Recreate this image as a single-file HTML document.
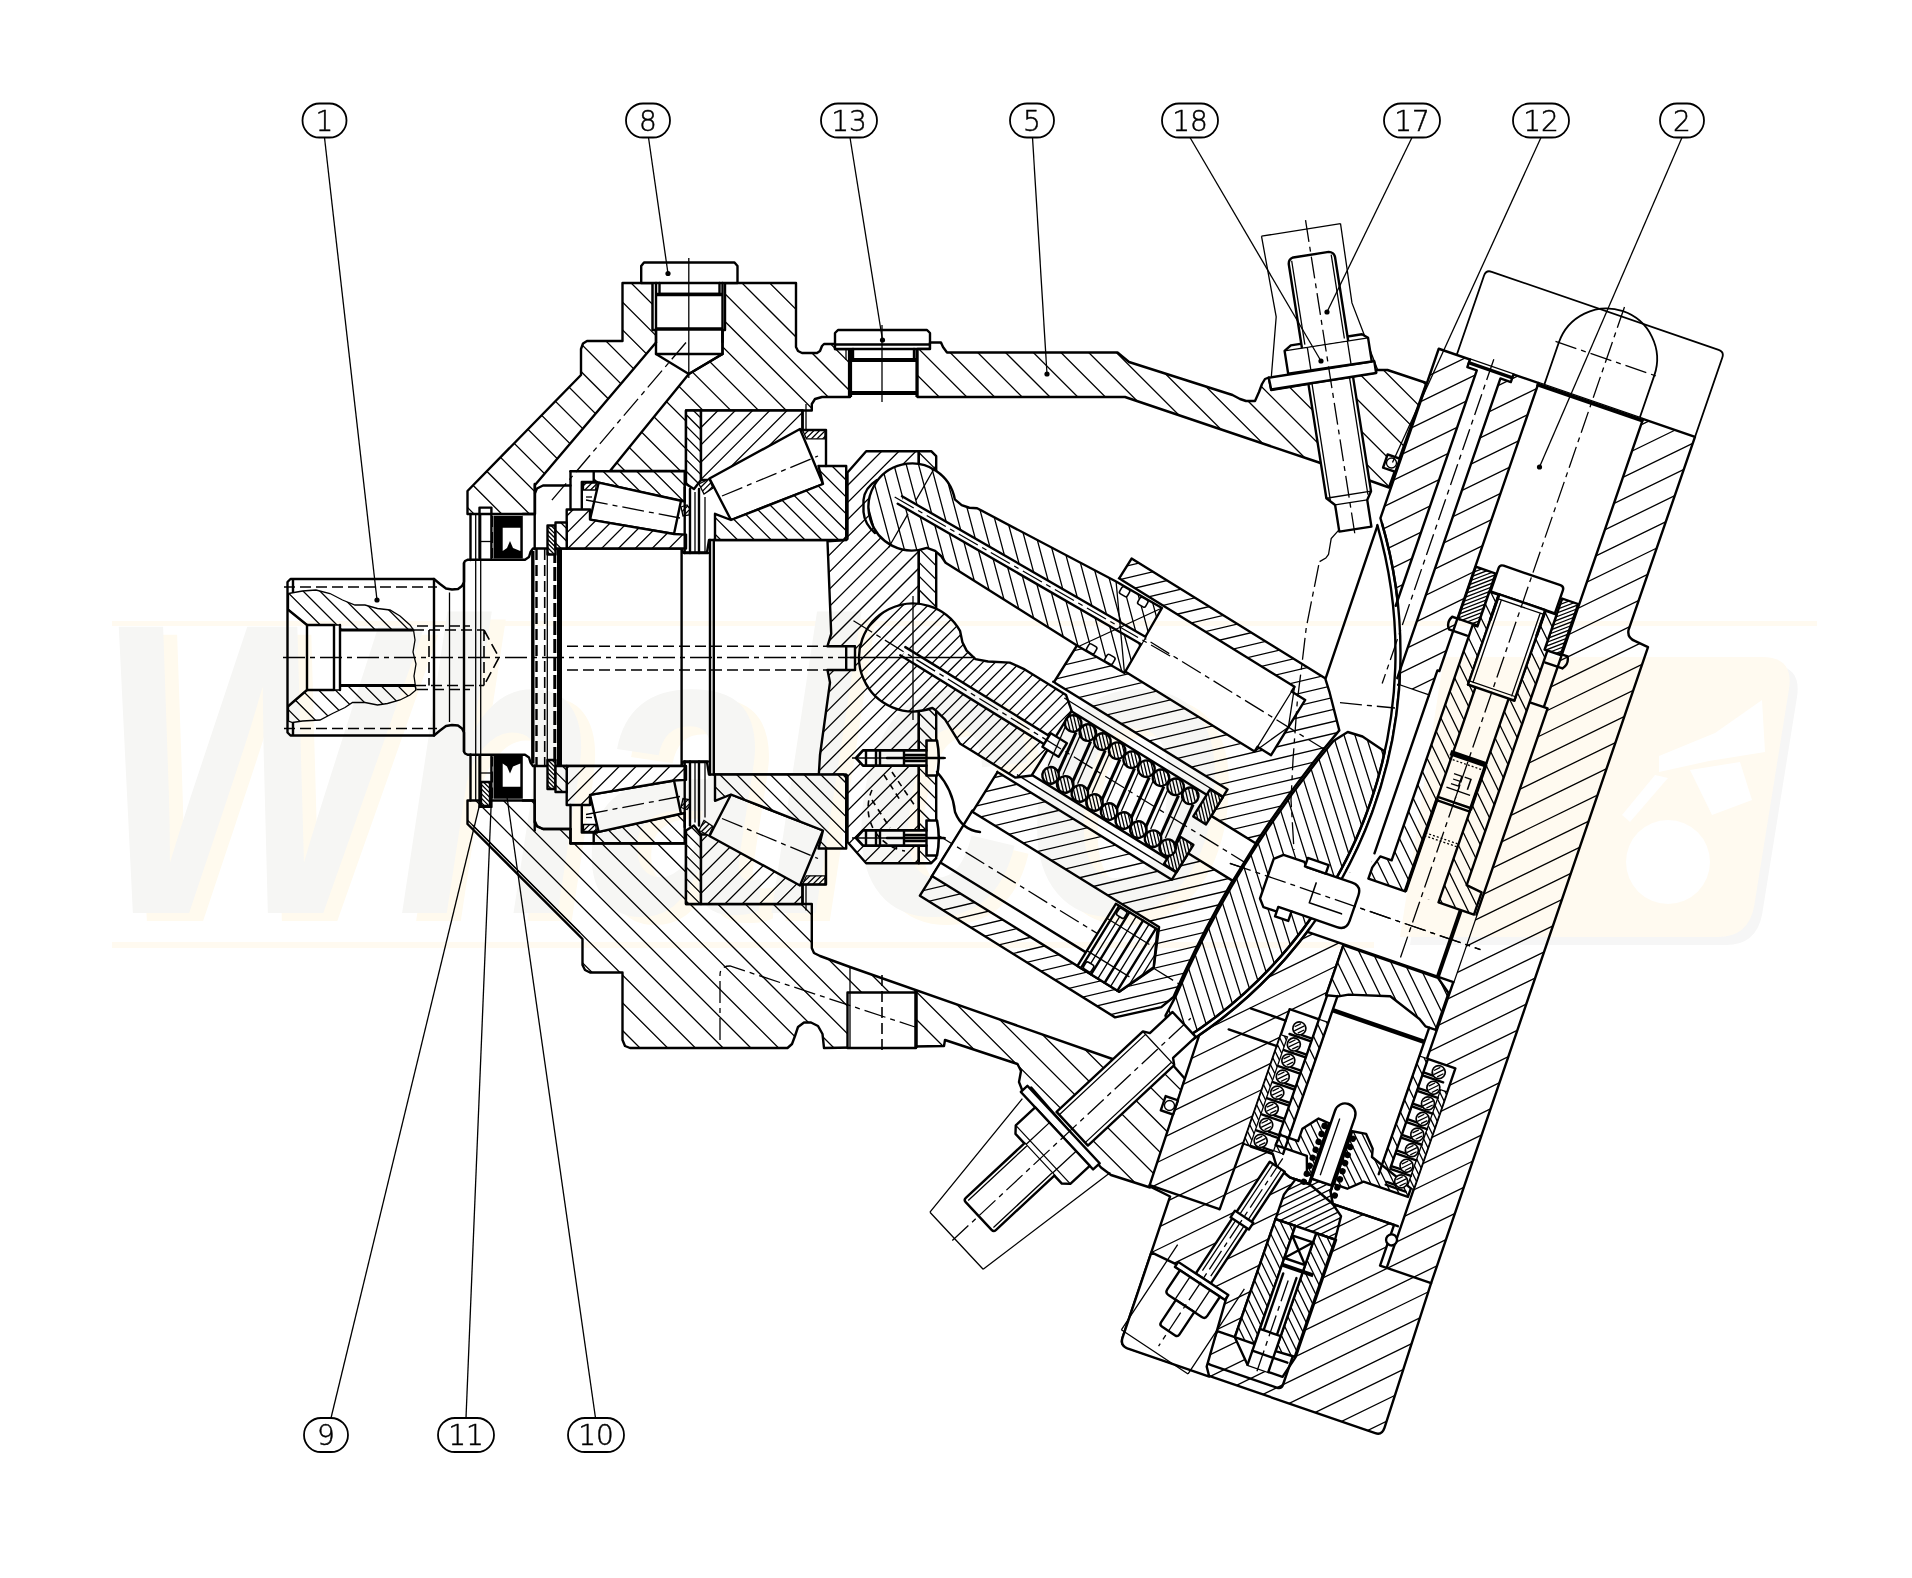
<!DOCTYPE html>
<html><head><meta charset="utf-8"><title>Pump section</title>
<style>
html,body{margin:0;padding:0;background:#fff}
svg{display:block}
.k{fill:none;stroke:#000;stroke-width:2.4;stroke-linejoin:round;stroke-linecap:round}
.k3{fill:none;stroke:#000;stroke-width:3.4;stroke-linecap:butt}
.t{fill:none;stroke:#000;stroke-width:1.3}
.m{fill:none;stroke:#000;stroke-width:1.5}
.d{fill:none;stroke:#000;stroke-width:1.6;stroke-dasharray:11 5}
.c{fill:none;stroke:#000;stroke-width:1.3;stroke-dasharray:22 5 5 5}
.b{fill:#000;stroke:none}
.w{fill:#fff;stroke:none}
text{font-family:"DejaVu Sans","Liberation Sans",sans-serif;font-weight:200;font-size:28px;text-anchor:middle;fill:#000;stroke:#000;stroke-width:0.5}
</style></head><body>
<svg width="1912" height="1578" viewBox="0 0 1912 1578">
<defs>
<clipPath id="c1"><path d="M467.5 491 L581 375 L581 349 L583 343.5 L587 341 L622.5 341 L622.5 283 L652.5 283 L652.5 330 L656 330 L656 342.5 L535 485 L535 514 L467.5 514 Z"/></clipPath>
<clipPath id="c2"><path d="M688.8 374 L722.5 354 L722.5 330 L725 330 L725 283 L796 283 L796 347 L798 351 L802 353 L817 353 L820 351 L822 346 L824 344 L835 344 L835 349 L850 349 L850 397 L822 397 L815 399 L811.8 404 L811.8 410.5 L686 410.5 L686 471 L610 471 Z"/></clipPath>
<clipPath id="c3"><path d="M467.5 800.5 L534.7 800.5 L534.7 822.5 L537 826.5 L543 829 L570.5 829 L570.5 843.5 L686 843.5 L686 904 L811.8 904 L811.8 948 L814 953 L820 956 L850 967 L1112.5 1059 L1122.5 1062.5 L1145 1033.8 L1175 1067.5 L1186 1080 L1184 1082 L1150 1187.5 L1111 1175 L1101 1167.5 L1031.2 1087.5 L1022.5 1091 L1019 1082 L1021 1071 L1017.5 1064 L945 1040 L944 1046 L824 1048 L822.5 1034 L818 1026 L811 1022.5 L804 1022.5 L798 1027 L795 1036 L792 1044 L787.5 1048 L630 1048 L625 1046 L622.5 1040 L622.5 972.5 L590 972.5 L585 970 L582.5 965 L582.5 939 L467.5 824 Z"/></clipPath>
<clipPath id="c4"><path d="M288.5 593.5 L302.5 591 L316 590 L330 593.5 L342.5 600 L355 605 L365 605 L377.5 608.5 L390 610 L400 616 L410 625 L413.5 630 L340 630 L340 625 L307 625 L288.5 610 Z"/></clipPath>
<clipPath id="c5"><path d="M307 690 L340 690 L340 685.5 L415 685.5 L416 690 L410 695 L400 700 L387.5 703.5 L377.5 705 L365 702.5 L352.5 702.5 L345 707.5 L332.5 713.5 L320 720 L302.5 721 L292.5 722.5 L288.5 721 L288.5 706 Z"/></clipPath>
<clipPath id="c6"><path d="M827.5 541.2 L846.2 540 L847.5 538.8 L847.5 472.5 L866.2 451.2 L918.8 451.2 L918.8 863.2 L866.2 863.2 L847.5 842 L847.5 775.8 L846.2 774.5 L818.8 775 L820 755 L830 682.5 L827.5 670 L855 670 L855 646.2 L827.5 646.2 L831.2 633.8 Z"/></clipPath>
<clipPath id="c7"><path d="M918.8 451.2 L931.2 451.2 L936.2 456.2 L936.2 858.2 L931.2 863.2 L918.8 863.2 Z"/></clipPath>
<clipPath id="c8"><path d="M593.7 471.3 L684.7 471.3 L684.7 501.5 L598.7 482.6 L593.7 482 Z"/></clipPath>
<clipPath id="c9"><path d="M566.7 509.5 L590 509.5 L590 519.6 L674 534 L686 534.6 L686 548.5 L566.7 548.5 Z"/></clipPath>
<clipPath id="c10"><path d="M583.5 483 L596.5 483 L595.5 490 L583.5 490 Z"/></clipPath>
<clipPath id="c11"><path d="M681 507 L687 505 L690 509 L689 515 L683 516 Z"/></clipPath>
<clipPath id="c12"><path d="M547.5 525.5 L555.5 525.5 L555.5 554.5 L547.5 554.5 Z"/></clipPath>
<clipPath id="c13"><path d="M555.5 522.5 L566.7 522.5 L566.7 548.5 L555.5 548.5 Z"/></clipPath>
<clipPath id="c14"><path d="M686 410.5 L701 410.5 L701 480 L694 489 L686 484 Z"/></clipPath>
<clipPath id="c15"><path d="M701 410.5 L802.5 410.5 L802.5 430 L708.8 480 L701 480 Z"/></clipPath>
<clipPath id="c16"><path d="M715 513.8 L731 520 L823 484 L818.5 466 L846.2 466 L846.2 537 L843.5 540 L715 540 Z"/></clipPath>
<clipPath id="c17"><path d="M802.5 430 L825 430 L825 438.8 L806.5 438.8 Z"/></clipPath>
<clipPath id="c18"><path d="M699 484 L709 479 L713 488 L704 494 Z"/></clipPath>
<clipPath id="c19"><path d="M593.7 843.2 L684.7 843.2 L684.7 813 L598.7 831.9 L593.7 832.5 Z"/></clipPath>
<clipPath id="c20"><path d="M566.7 805 L590 805 L590 794.9 L674 780.5 L686 779.9 L686 766 L566.7 766 Z"/></clipPath>
<clipPath id="c21"><path d="M583.5 831.5 L596.5 831.5 L595.5 824.5 L583.5 824.5 Z"/></clipPath>
<clipPath id="c22"><path d="M681 807.5 L687 809.5 L690 805.5 L689 799.5 L683 798.5 Z"/></clipPath>
<clipPath id="c23"><path d="M547.5 789 L555.5 789 L555.5 760 L547.5 760 Z"/></clipPath>
<clipPath id="c24"><path d="M555.5 792 L566.7 792 L566.7 766 L555.5 766 Z"/></clipPath>
<clipPath id="c25"><path d="M686 904 L701 904 L701 834.5 L694 825.5 L686 830.5 Z"/></clipPath>
<clipPath id="c26"><path d="M701 904 L802.5 904 L802.5 884.5 L708.8 834.5 L701 834.5 Z"/></clipPath>
<clipPath id="c27"><path d="M715 800.8 L731 794.5 L823 830.5 L818.5 848.5 L846.2 848.5 L846.2 777.5 L843.5 774.5 L715 774.5 Z"/></clipPath>
<clipPath id="c28"><path d="M802.5 884.5 L825 884.5 L825 875.8 L806.5 875.8 Z"/></clipPath>
<clipPath id="c29"><path d="M699 830.5 L709 835.5 L713 826.5 L704 820.5 Z"/></clipPath>
<clipPath id="c30"><path d="M481 782 L490 782 L490 806 L481 806 Z"/></clipPath>
<clipPath id="c31"><path d="M917.5 397 L917.5 349 L930 349 L930 342.5 L941 342.5 L943 347 L947 352.5 L1117.5 352.5 L1129 362 L1232.5 395 L1240 399 L1246 401 L1255 401 L1259 392 L1262 384 L1265 379 L1268.8 377.5 L1271.2 390 L1376.2 372.5 L1376 370 L1387.5 370 L1426.5 383 L1389 487.5 L1319 462.5 L1125 397 Z"/></clipPath>
<clipPath id="c32"><path d="M134 -199 L361.5 -199 L373 -189 L401 -162 A1082 1082 0 0 0 400 152 L395 167 L361 200 L131 199 Z"/></clipPath>
<clipPath id="c33"><path d="M26 -47.4 L34 -39 L42 -34 L54 -31.5 L66 -36 L85 -46.5 L100 -48.5 H150 L163 -38 V38 L150 48.5 H100 L85 48.5 L74 43 L60 36 L47 33 L43 32.7 A54 54 0 1 1 26 -47.4Z"/></clipPath>
<clipPath id="c34"><path d="M322 -44 L337 -44 L337 -12 L322 -12 Z"/></clipPath>
<clipPath id="c35"><path d="M322 12 L337 12 L337 44 L322 44 Z"/></clipPath>
<clipPath id="c36"><path d="M162.7 -28 a8.3 8.3 0 1 0 16.6 0 a8.3 8.3 0 1 0 -16.6 0Z"/></clipPath>
<clipPath id="c37"><path d="M170.7 28 a8.3 8.3 0 1 0 16.6 0 a8.3 8.3 0 1 0 -16.6 0Z"/></clipPath>
<clipPath id="c38"><path d="M179.9 -28 a8.3 8.3 0 1 0 16.6 0 a8.3 8.3 0 1 0 -16.6 0Z"/></clipPath>
<clipPath id="c39"><path d="M187.9 28 a8.3 8.3 0 1 0 16.6 0 a8.3 8.3 0 1 0 -16.6 0Z"/></clipPath>
<clipPath id="c40"><path d="M197.1 -28 a8.3 8.3 0 1 0 16.6 0 a8.3 8.3 0 1 0 -16.6 0Z"/></clipPath>
<clipPath id="c41"><path d="M205.1 28 a8.3 8.3 0 1 0 16.6 0 a8.3 8.3 0 1 0 -16.6 0Z"/></clipPath>
<clipPath id="c42"><path d="M214.3 -28 a8.3 8.3 0 1 0 16.6 0 a8.3 8.3 0 1 0 -16.6 0Z"/></clipPath>
<clipPath id="c43"><path d="M222.3 28 a8.3 8.3 0 1 0 16.6 0 a8.3 8.3 0 1 0 -16.6 0Z"/></clipPath>
<clipPath id="c44"><path d="M231.5 -28 a8.3 8.3 0 1 0 16.6 0 a8.3 8.3 0 1 0 -16.6 0Z"/></clipPath>
<clipPath id="c45"><path d="M239.5 28 a8.3 8.3 0 1 0 16.6 0 a8.3 8.3 0 1 0 -16.6 0Z"/></clipPath>
<clipPath id="c46"><path d="M248.7 -28 a8.3 8.3 0 1 0 16.6 0 a8.3 8.3 0 1 0 -16.6 0Z"/></clipPath>
<clipPath id="c47"><path d="M256.7 28 a8.3 8.3 0 1 0 16.6 0 a8.3 8.3 0 1 0 -16.6 0Z"/></clipPath>
<clipPath id="c48"><path d="M265.9 -28 a8.3 8.3 0 1 0 16.6 0 a8.3 8.3 0 1 0 -16.6 0Z"/></clipPath>
<clipPath id="c49"><path d="M273.9 28 a8.3 8.3 0 1 0 16.6 0 a8.3 8.3 0 1 0 -16.6 0Z"/></clipPath>
<clipPath id="c50"><path d="M283.1 -28 a8.3 8.3 0 1 0 16.6 0 a8.3 8.3 0 1 0 -16.6 0Z"/></clipPath>
<clipPath id="c51"><path d="M291.1 28 a8.3 8.3 0 1 0 16.6 0 a8.3 8.3 0 1 0 -16.6 0Z"/></clipPath>
<clipPath id="c52"><path d="M300.3 -28 a8.3 8.3 0 1 0 16.6 0 a8.3 8.3 0 1 0 -16.6 0Z"/></clipPath>
<clipPath id="c53"><path d="M308.3 28 a8.3 8.3 0 1 0 16.6 0 a8.3 8.3 0 1 0 -16.6 0Z"/></clipPath>
<clipPath id="c54"><path d="M33.3 -28 L42 -26.5 L50 -28 L57 -31.5 L214 -37.5 L267 -37.5 L267 37.5 L214 37.5 L57 31.5 L50 28 L42 26.5 L33.3 28 A43.5 43.5 0 1 1 33.3 -28Z"/></clipPath>
<clipPath id="c55"><path d="M0 0 H271 V204 Q272 212 281 212.5 L295 214 L297 886 L300 1038 Q300 1046 293 1046 H31 Q23 1046 23 1038 L22 889 L-1 886 L-3 727 A463.5 463.5 0 0 0 0 179.1 Z"/></clipPath>
<clipPath id="c56"><path d="M106 194 L127 194 L127 249 L106 249 Z"/></clipPath>
<clipPath id="c57"><path d="M198 196 L215 196 L215 250 L198 250 Z"/></clipPath>
<clipPath id="c58"><path d="M127 213 L137 213 L137 308 L145 308 L145 524 L106 524 L106 512 L110 499 L122 499 L122 250 L127 250 Z"/></clipPath>
<clipPath id="c59"><path d="M186 213 L198 213 L198 250 L201 250 L201 498 L217.5 500 L217.5 523.5 L180 523.5 L180 308 L186 308 Z"/></clipPath>
<clipPath id="c60"><path d="M1333.4 740.9 L1347.7 732 L1362.5 736.5 L1384.8 751.6 A458.5 458.5 0 0 1 1187.4 1037.1 L1168.9 1027.1 L1165.5 1015.6 L1175.8 996.1 A1082 1082 0 0 1 1333.4 740.9 Z"/></clipPath>
<clipPath id="c61"><path d="M135 832 L150 832 L150 826 L172 826 L172 832 L178 843 L190 852 L192 876 L129 876 L129 850 Z"/></clipPath>
<clipPath id="c62"><path d="M104 595 L204 595 L219 606 L219 645 L208 645 L200 640 L165 628 L125 640 L116 645 L104 648 Z"/></clipPath>
<clipPath id="c63"><path d="M74 700 L81 700 L81 815 L74 815 Z"/></clipPath>
<clipPath id="c64"><path d="M105 673 L115 673 L115 812 L105 812 Z"/></clipPath>
<clipPath id="c65"><path d="M212 675 L221 675 L221 800 L212 800 Z"/></clipPath>
<clipPath id="c66"><path d="M243 700 L250 700 L250 803 L243 803 Z"/></clipPath>
<clipPath id="c67"><path d="M125 782 L137 767 L148.5 768 L148.5 823 L144 823 L138 806 L105 806 L106 795 L125 795 Z"/></clipPath>
<clipPath id="c68"><path d="M173 768 L187 766 L198 778 L200 786 L247 803 L247 812 L200 812 L187 824 L173 824 Z"/></clipPath>
<clipPath id="c69"><path d="M129 876 L150 876 L150 1001 L129 1001 Z"/></clipPath>
<clipPath id="c70"><path d="M172 876 L192 876 L192 1000 L172 1001 Z"/></clipPath>
</defs>
<path d="M467.5 491 L581 375 L581 349 L583 343.5 L587 341 L622.5 341 L622.5 283 L652.5 283 L652.5 330 L656 330 L656 342.5 L535 485 L535 514 L467.5 514 Z" fill="#fff"/>
<g clip-path="url(#c1)"><path class="t" d="M547.8 199.7L760.6 412.5M533.9 213.5L746.7 426.3M520 227.4L732.9 440.2M506.2 241.2L719 454.1M492.3 255.1L705.1 467.9M478.5 269L691.3 481.8M464.6 282.8L677.4 495.6M450.8 296.7L663.6 509.5M436.9 310.5L649.7 523.4M423 324.4L635.8 537.2M409.2 338.3L622 551.1M395.3 352.1L608.1 564.9M381.5 366L594.3 578.8M367.6 379.8L580.4 592.7M353.7 393.7L566.5 606.5"/></g>
<path class="k" d="M467.5 491 L581 375 L581 349 L583 343.5 L587 341 L622.5 341 L622.5 283 L652.5 283 L652.5 330 L656 330 L656 342.5 L535 485 L535 514 L467.5 514 Z"/>
<path d="M688.8 374 L722.5 354 L722.5 330 L725 330 L725 283 L796 283 L796 347 L798 351 L802 353 L817 353 L820 351 L822 346 L824 344 L835 344 L835 349 L850 349 L850 397 L822 397 L815 399 L811.8 404 L811.8 410.5 L686 410.5 L686 471 L610 471 Z" fill="#fff"/>
<g clip-path="url(#c2)"><path class="t" d="M715.8 173.7L933.3 391.2M701.9 187.5L919.5 405.1M688.1 201.4L905.6 418.9M674.2 215.2L891.8 432.8M660.3 229.1L877.9 446.7M646.5 243L864 460.5M632.6 256.8L850.2 474.4M618.8 270.7L836.3 488.2M604.9 284.5L822.5 502.1M591 298.4L808.6 516M577.2 312.3L794.7 529.8M563.3 326.1L780.9 543.7M549.5 340L767 557.5M535.6 353.8L753.2 571.4M521.8 367.7L739.3 585.2"/></g>
<path class="k" d="M688.8 374 L722.5 354 L722.5 330 L725 330 L725 283 L796 283 L796 347 L798 351 L802 353 L817 353 L820 351 L822 346 L824 344 L835 344 L835 349 L850 349 L850 397 L822 397 L815 399 L811.8 404 L811.8 410.5 L686 410.5 L686 471 L610 471 Z"/>
<path class="c" d="M686 342.5 L548.8 503.8"/>
<path class="k" d="M641.2 283 L641.2 266 L644 262.5 L734.5 262.5 L737.5 266 L737.5 283 Z" style="fill:#fff"/>
<path class="t" d="M652.5 283 L652.5 330" />
<path class="t" d="M725 283 L725 330" />
<path class="k" d="M656 342.5 L656 354 L688.8 374 L722.5 354 L722.5 330" />
<path class="k" d="M656 354 L722.5 354" />
<path class="k" d="M659.5 283 L659.5 294 L719.5 294 L719.5 283" />
<path class="k3" d="M656 294.5H722.5M656 329H722.5"/>
<path class="k" d="M656 283 L656 342.5" />
<path class="k" d="M722.5 283 L722.5 342" />
<path class="t" d="M688.8 258 L688.8 378"/>
<path class="k" d="M835 349 L835 333 L838 330 L927 330 L930 333 L930 349 Z" style="fill:#fff"/>
<path class="t" d="M846 349 L846 360" />
<path class="t" d="M921 349 L921 360" />
<path class="k" d="M835 344.5 L930 344.5"/>
<path class="k3" style="stroke-width:4.2" d="M850 349V397M917.5 349V397M850 360H917.5M850 393H917.5"/>
<path class="k" d="M853 349 L853 358" />
<path class="k" d="M914 349 L914 358" />
<path class="t" d="M882 325 L882 402"/>
<path d="M467.5 800.5 L534.7 800.5 L534.7 822.5 L537 826.5 L543 829 L570.5 829 L570.5 843.5 L686 843.5 L686 904 L811.8 904 L811.8 948 L814 953 L820 956 L850 967 L1112.5 1059 L1122.5 1062.5 L1145 1033.8 L1175 1067.5 L1186 1080 L1184 1082 L1150 1187.5 L1111 1175 L1101 1167.5 L1031.2 1087.5 L1022.5 1091 L1019 1082 L1021 1071 L1017.5 1064 L945 1040 L944 1046 L824 1048 L822.5 1034 L818 1026 L811 1022.5 L804 1022.5 L798 1027 L795 1036 L792 1044 L787.5 1048 L630 1048 L625 1046 L622.5 1040 L622.5 972.5 L590 972.5 L585 970 L582.5 965 L582.5 939 L467.5 824 Z" fill="#fff"/>
<g clip-path="url(#c3)"><path class="t" d="M804.9 436.8L1383.9 1015.8M791.1 450.7L1370.1 1029.7M777.2 464.5L1356.2 1043.5M763.4 478.4L1342.3 1057.4M749.5 492.3L1328.5 1071.2M735.6 506.1L1314.6 1085.1M721.8 520L1300.8 1099M707.9 533.8L1286.9 1112.8M694.1 547.7L1273.1 1126.7M680.2 561.6L1259.2 1140.5M666.4 575.4L1245.3 1154.4M652.5 589.3L1231.5 1168.3M638.6 603.1L1217.6 1182.1M624.8 617L1203.8 1196M610.9 630.9L1189.9 1209.8M597.1 644.7L1176 1223.7M583.2 658.6L1162.2 1237.6M569.3 672.4L1148.3 1251.4M555.5 686.3L1134.5 1265.3M541.6 700.2L1120.6 1279.1M527.8 714L1106.7 1293M513.9 727.9L1092.9 1306.9M500 741.7L1079 1320.7M486.2 755.6L1065.2 1334.6M472.3 769.4L1051.3 1348.4M458.5 783.3L1037.4 1362.3M444.6 797.2L1023.6 1376.1M430.7 811L1009.7 1390M416.9 824.9L995.9 1403.9M403 838.7L982 1417.7M389.2 852.6L968.1 1431.6M375.3 866.5L954.3 1445.4M361.4 880.3L940.4 1459.3M347.6 894.2L926.6 1473.2M333.7 908L912.7 1487M319.9 921.9L898.9 1500.9M306 935.8L885 1514.7M292.1 949.6L871.1 1528.6M278.3 963.5L857.3 1542.5M264.4 977.3L843.4 1556.3"/></g>
<path class="k" d="M467.5 800.5 L534.7 800.5 L534.7 822.5 L537 826.5 L543 829 L570.5 829 L570.5 843.5 L686 843.5 L686 904 L811.8 904 L811.8 948 L814 953 L820 956 L850 967 L1112.5 1059 L1122.5 1062.5 L1145 1033.8 L1175 1067.5 L1186 1080 L1184 1082 L1150 1187.5 L1111 1175 L1101 1167.5 L1031.2 1087.5 L1022.5 1091 L1019 1082 L1021 1071 L1017.5 1064 L945 1040 L944 1046 L824 1048 L822.5 1034 L818 1026 L811 1022.5 L804 1022.5 L798 1027 L795 1036 L792 1044 L787.5 1048 L630 1048 L625 1046 L622.5 1040 L622.5 972.5 L590 972.5 L585 970 L582.5 965 L582.5 939 L467.5 824 Z"/>
<path class="t" d="M472.5 825 L580 932.5" />
<path class="k" d="M847.5 992.5 L916 992.5 L916 1048 L847.5 1048 Z" style="fill:#fff"/>
<path class="k3" d="M916 990 L916 1048"/>
<path class="t" d="M850 967.5 L850 1048" />
<path class="d" d="M882 975 L882 1052"/>
<path class="c" d="M720 1040V975Q720 966 730 966L915 1027"/>
<path class="k" d="M287.5 582 L290.5 579 L434 579 L440 584 L446 588.5 L452 589.5 L458 589 L462 586 L464 582 L464 563 L465 561 L468 559.7 L525 559.7 L529 557 L530.5 552 L533 548.5 L681.6 548.5 L683 552.5 L707 552.5 L709 540 L846.2 540 L846.2 774.5 L846.2 774.5 L709 774.5 L707 762 L683 762 L681.6 766 L533 766 L530.5 762.5 L529 757.5 L525 754.8 L468 754.8 L465 753.5 L464 751.5 L464 732.5 L462 728.5 L458 725.5 L452 725 L446 726 L440 730.5 L434 735.5 L290.5 735.5 L287.5 732.5 Z" style="fill:#fff"/>
<path class="k" d="M293 580 L293 593"/>
<path class="k" d="M293 721.5 L293 734.5"/>
<path class="k" d="M434 579 L434 735.5"/>
<path class="t" d="M449.5 592.5 L449.5 722"/>
<path class="k" d="M464 563 L464 751.5"/>
<path class="t" d="M475.7 514 L475.7 800.5"/>
<path class="t" d="M480.7 514 L480.7 800.5"/>
<path class="k3" d="M532.8 551 L532.8 763.5"/>
<path class="d" style="stroke-width:2.4" d="M536.5 549V765.5"/>
<path class="d" d="M544.7 549 L544.7 765.5"/>
<path class="t" d="M547.3 549 L547.3 765.5"/>
<path class="d" style="stroke-width:3;stroke-dasharray:14 4" d="M554.8 549V765.5"/>
<path class="k3" style="stroke-width:5" d="M559.5 549V765.5"/>
<path class="k" d="M681.6 548.5 L681.6 766"/>
<path class="k" d="M710 540 L710 774.5"/>
<path class="k" d="M713.8 540 L713.8 774.5"/>
<path class="d" d="M284 587H437M284 728.5H437"/>
<path class="c" d="M283 657.5 L940 657.5"/>
<path d="M288.5 593.5 L302.5 591 L316 590 L330 593.5 L342.5 600 L355 605 L365 605 L377.5 608.5 L390 610 L400 616 L410 625 L413.5 630 L340 630 L340 625 L307 625 L288.5 610 Z" fill="#fff"/>
<g clip-path="url(#c4)"><path class="t" d="M339.3 527.1L433.9 621.7M331 535.5L425.5 630M322.6 543.8L417.2 638.4M314.3 552.1L408.9 646.7M305.9 560.5L400.5 655.1M297.6 568.8L392.2 663.4M289.2 577.2L383.8 671.8M280.9 585.5L375.5 680.1M272.6 593.9L367.1 688.4M264.2 602.2L358.8 696.8"/></g>
<path class="t" d="M288.5 593.5 L302.5 591 L316 590 L330 593.5 L342.5 600 L355 605 L365 605 L377.5 608.5 L390 610 L400 616 L410 625 L413.5 630 L340 630 L340 625 L307 625 L288.5 610 Z"/>
<path d="M307 690 L340 690 L340 685.5 L415 685.5 L416 690 L410 695 L400 700 L387.5 703.5 L377.5 705 L365 702.5 L352.5 702.5 L345 707.5 L332.5 713.5 L320 720 L302.5 721 L292.5 722.5 L288.5 721 L288.5 706 Z" fill="#fff"/>
<g clip-path="url(#c5)"><path class="t" d="M344.7 615.9L440.3 711.6M336.3 624.3L432 719.9M328 632.6L423.6 728.3M319.7 641L415.3 736.6M311.3 649.3L406.9 744.9M303 657.7L398.6 753.3M294.6 666L390.3 761.6M286.3 674.3L381.9 770M277.9 682.7L373.6 778.3M269.6 691L365.2 786.7"/></g>
<path class="t" d="M307 690 L340 690 L340 685.5 L415 685.5 L416 690 L410 695 L400 700 L387.5 703.5 L377.5 705 L365 702.5 L352.5 702.5 L345 707.5 L332.5 713.5 L320 720 L302.5 721 L292.5 722.5 L288.5 721 L288.5 706 Z"/>
<path class="k" d="M288.5 610 L307 625 L307 690 L288.5 706" />
<path class="k" d="M307 625 L334 625 L334 690 L307 690" />
<path class="k" d="M340 625 L340 690" />
<path class="k3" style="stroke-width:2.8" d="M340 630H413.5M340 685.5H415"/>
<path class="t" d="M413.5 630 L415 640 L413 652 L416 664 L414 676 L416 690" />
<path class="d" d="M417 626H470M417 689.5H470M413 630H484M415 685.5H484M429 630V685.5M484 630V685.5M484 630L499 657.5L484 685.5"/>
<path class="d" d="M567 646.25H827.5M567 670H827.5"/>
<path d="M827.5 541.2 L846.2 540 L847.5 538.8 L847.5 472.5 L866.2 451.2 L918.8 451.2 L918.8 863.2 L866.2 863.2 L847.5 842 L847.5 775.8 L846.2 774.5 L818.8 775 L820 755 L830 682.5 L827.5 670 L855 670 L855 646.2 L827.5 646.2 L831.2 633.8 Z" fill="#fff"/>
<g clip-path="url(#c6)"><path class="t" d="M595.9 685.8L897.3 384.4M604.4 694.4L905.9 392.9M613 703L914.5 401.5M621.5 711.5L923 410M630.1 720.1L931.6 418.6M638.6 728.6L940.1 427.1M647.2 737.2L948.7 435.7M655.7 745.7L957.2 444.2M664.3 754.3L965.8 452.8M672.9 762.9L974.4 461.4M681.4 771.4L982.9 469.9M690 780L991.5 478.5M698.5 788.5L1000 487M707.1 797.1L1008.6 495.6M715.6 805.6L1017.1 504.1M724.2 814.2L1025.7 512.7M732.7 822.7L1034.2 521.2M741.3 831.3L1042.8 529.8M749.9 839.9L1051.4 538.4M758.4 848.4L1059.9 546.9M767 857L1068.5 555.5M775.5 865.5L1077 564M784.1 874.1L1085.6 572.6M792.6 882.6L1094.1 581.1M801.2 891.2L1102.7 589.7M809.8 899.7L1111.2 598.3M818.3 908.3L1119.8 606.8M826.9 916.9L1128.4 615.4M835.4 925.4L1136.9 623.9M844 934L1145.5 632.5"/></g>
<path class="k" d="M827.5 541.2 L846.2 540 L847.5 538.8 L847.5 472.5 L866.2 451.2 L918.8 451.2 L918.8 863.2 L866.2 863.2 L847.5 842 L847.5 775.8 L846.2 774.5 L818.8 775 L820 755 L830 682.5 L827.5 670 L855 670 L855 646.2 L827.5 646.2 L831.2 633.8 Z"/>
<path d="M918.8 451.2 L931.2 451.2 L936.2 456.2 L936.2 858.2 L931.2 863.2 L918.8 863.2 Z" fill="#fff"/>
<g clip-path="url(#c7)"><path class="t" d="M885.9 405.8L1179 698.8M879 412.6L1172.1 705.7M872.2 419.5L1165.3 712.6M865.3 426.4L1158.4 719.4M858.5 433.2L1151.5 726.3M851.6 440.1L1144.7 733.1M844.8 446.9L1137.8 740M837.9 453.8L1131 746.9M831 460.7L1124.1 753.7M824.2 467.5L1117.2 760.6M817.3 474.4L1110.4 767.4M810.5 481.2L1103.5 774.3M803.6 488.1L1096.7 781.2M796.7 494.9L1089.8 788M789.9 501.8L1082.9 794.9M783 508.7L1076.1 801.7M776.2 515.5L1069.2 808.6M769.3 522.4L1062.4 815.4M762.4 529.2L1055.5 822.3M755.6 536.1L1048.7 829.2M748.7 543L1041.8 836M741.9 549.8L1034.9 842.9M735 556.7L1028.1 849.7M728.1 563.5L1021.2 856.6M721.3 570.4L1014.4 863.5M714.4 577.3L1007.5 870.3M707.6 584.1L1000.6 877.2M700.7 591L993.8 884M693.9 597.8L986.9 890.9M687 604.7L980.1 897.8M680.1 611.5L973.2 904.6M673.3 618.4L966.3 911.5"/></g>
<path class="k" d="M918.8 451.2 L931.2 451.2 L936.2 456.2 L936.2 858.2 L931.2 863.2 L918.8 863.2 Z"/>
<path d="M593.7 471.3 L684.7 471.3 L684.7 501.5 L598.7 482.6 L593.7 482 Z" fill="#fff"/>
<g clip-path="url(#c8)"><path class="t" d="M627.6 428.4L697.2 498M619.2 436.9L688.7 506.4M610.7 445.3L680.3 514.9M602.3 453.7L671.9 523.3M593.9 462.1L663.5 531.7M585.5 470.5L655.1 540.1M577.1 478.9L646.7 548.5"/></g>
<path class="k" d="M593.7 471.3 L684.7 471.3 L684.7 501.5 L598.7 482.6 L593.7 482 Z"/>
<path class="k" d="M598.7 482.6 L681 500.8 L674 534 L590 519.6 Z" style="fill:#fff"/>
<path class="c" d="M586 500 L680 518" />
<path d="M566.7 509.5 L590 509.5 L590 519.6 L674 534 L686 534.6 L686 548.5 L566.7 548.5 Z" fill="#fff"/>
<g clip-path="url(#c9)"><path class="t" d="M544.8 538L635.3 447.4M553.2 546.4L643.7 455.8M561.6 554.8L652.1 464.2M570 563.2L660.5 472.7M578.4 571.6L669 481.1M586.8 580L677.4 489.5M595.3 588.4L685.8 497.9M603.7 596.9L694.2 506.3M612.1 605.3L702.6 514.7M620.5 613.7L711 523.1"/></g>
<path class="k" d="M566.7 509.5 L590 509.5 L590 519.6 L674 534 L686 534.6 L686 548.5 L566.7 548.5 Z"/>
<path class="k" d="M570.5 471.3 L570.5 509.5" />
<path class="k" d="M570.5 471.3 L593.7 471.3" />
<path class="k" d="M581.8 508 L581.8 482 L597 482" />
<path d="M583.5 483 L596.5 483 L595.5 490 L583.5 490 Z" fill="#fff"/>
<g clip-path="url(#c10)"><path class="t" d="M580.1 489L592.5 476.6M583 491.8L595.3 479.5M585.8 494.7L598.2 482.3M588.6 497.5L601 485.1"/></g>
<path class="t" d="M583.5 483 L596.5 483 L595.5 490 L583.5 490 Z"/>
<path d="M681 507 L687 505 L690 509 L689 515 L683 516 Z" fill="#fff"/>
<g clip-path="url(#c11)"><path class="t" d="M675.4 512.5L687.5 500.4M678.3 515.3L690.3 503.3M681.1 518.1L693.1 506.1M683.9 521L696 508.9"/></g>
<path class="t" d="M681 507 L687 505 L690 509 L689 515 L683 516 Z"/>
<path class="t" d="M586 497 L592 497" />
<path d="M547.5 525.5 L555.5 525.5 L555.5 554.5 L547.5 554.5 Z" fill="#fff"/>
<g clip-path="url(#c12)"><path class="t" d="M549.1 519.4L572.1 542.4M547 521.5L570 544.5M544.8 523.6L567.9 546.7M542.7 525.7L565.8 548.8M540.6 527.9L563.6 550.9M538.5 530L561.5 553M536.4 532.1L559.4 555.1M534.2 534.2L557.3 557.3M532.1 536.4L555.1 559.4M530 538.5L553 561.5"/></g>
<path class="k" d="M547.5 525.5 L555.5 525.5 L555.5 554.5 L547.5 554.5 Z"/>
<path d="M555.5 522.5 L566.7 522.5 L566.7 548.5 L555.5 548.5 Z" fill="#fff"/>
<g clip-path="url(#c13)"><path class="t" d="M556.4 518.3L578.3 540.2M550.1 524.6L572 546.5M543.7 531L565.6 552.9"/></g>
<path class="k" d="M555.5 522.5 L566.7 522.5 L566.7 548.5 L555.5 548.5 Z"/>
<path class="k" d="M684.7 487.5 L684.7 553" />
<path class="k" d="M690 489 L690 553" />
<path class="t" d="M695 492 L695 553" />
<path class="k" d="M699 489 L699 553" />
<path class="t" d="M705 497 L705 553" />
<path class="k" d="M684 553 L708 553" />
<path d="M686 410.5 L701 410.5 L701 480 L694 489 L686 484 Z" fill="#fff"/>
<g clip-path="url(#c14)"><path class="t" d="M684 401.1L742.1 459.3M678.3 406.8L736.5 464.9M672.6 412.4L730.8 470.6M667 418.1L725.2 476.3M661.3 423.7L719.5 481.9M655.7 429.4L713.9 487.6M650 435.1L708.2 493.2M644.4 440.7L702.5 498.9"/></g>
<path class="k" d="M686 410.5 L701 410.5 L701 480 L694 489 L686 484 Z"/>
<path d="M701 410.5 L802.5 410.5 L802.5 430 L708.8 480 L701 480 Z" fill="#fff"/>
<g clip-path="url(#c15)"><path class="t" d="M664.4 446.9L753.4 357.9M673 455.5L762 366.5M681.7 464.1L770.6 375.2M690.3 472.8L779.3 383.8M698.9 481.4L787.9 392.4M707.6 490L796.5 401.1M716.2 498.6L805.1 409.7M724.8 507.3L813.8 418.3M733.4 515.9L822.4 426.9M742.1 524.5L831 435.6M750.7 533.1L839.6 444.2"/></g>
<path class="k" d="M701 410.5 L802.5 410.5 L802.5 430 L708.8 480 L701 480 Z"/>
<path class="k" d="M709.5 478.5 L800 429 L823 484 L731 520 Z" style="fill:#fff"/>
<path class="c" d="M722 496 L818 456" />
<path d="M715 513.8 L731 520 L823 484 L818.5 466 L846.2 466 L846.2 537 L843.5 540 L715 540 Z" fill="#fff"/>
<g clip-path="url(#c16)"><path class="t" d="M770.6 404.6L879 513M762.2 413L870.6 521.5M753.7 421.4L862.2 529.9M745.3 429.8L853.8 538.3M736.9 438.2L845.4 546.7M728.5 446.7L837 555.1M720.1 455.1L828.6 563.5M711.7 463.5L820.1 572M703.3 471.9L811.7 580.4M694.8 480.3L803.3 588.8M686.4 488.7L794.9 597.2M678 497.1L786.5 605.6"/></g>
<path class="k" d="M715 513.8 L731 520 L823 484 L818.5 466 L846.2 466 L846.2 537 L843.5 540 L715 540 Z"/>
<path d="M802.5 430 L825 430 L825 438.8 L806.5 438.8 Z" fill="#fff"/>
<g clip-path="url(#c17)"><path class="t" d="M796.8 436.4L815.7 417.5M799.7 439.2L818.6 420.3M802.5 442L821.4 423.1M805.3 444.9L824.2 425.9M808.1 447.7L827.1 428.8M811 450.5L829.9 431.6"/></g>
<path class="t" d="M802.5 430 L825 430 L825 438.8 L806.5 438.8 Z"/>
<path class="k" d="M802.5 430 L826 430 L826 466" />
<path d="M699 484 L709 479 L713 488 L704 494 Z" fill="#fff"/>
<g clip-path="url(#c18)"><path class="t" d="M689.8 486.8L706.3 470.3M692.6 489.6L709.1 473.1M695.5 492.5L712 476M698.3 495.3L714.8 478.8M701.1 498.1L717.6 481.6M704 501L720.5 484.5"/></g>
<path class="t" d="M699 484 L709 479 L713 488 L704 494 Z"/>
<path class="k" d="M802.5 410.5 L802.5 430" />
<path class="t" d="M806 404 L806 430" />
<path d="M593.7 843.2 L684.7 843.2 L684.7 813 L598.7 831.9 L593.7 832.5 Z" fill="#fff"/>
<g clip-path="url(#c19)"><path class="t" d="M630.1 767.6L699.7 837.2M621.7 776L691.3 845.6M613.3 784.4L682.9 854M604.9 792.8L674.5 862.4M596.5 801.2L666.1 870.8M588.1 809.7L657.6 879.2M579.6 818.1L649.2 887.7"/></g>
<path class="k" d="M593.7 843.2 L684.7 843.2 L684.7 813 L598.7 831.9 L593.7 832.5 Z"/>
<path class="k" d="M598.7 831.9 L681 813.7 L674 780.5 L590 794.9 Z" style="fill:#fff"/>
<path class="c" d="M586 814.5 L680 796.5" />
<path d="M566.7 805 L590 805 L590 794.9 L674 780.5 L686 779.9 L686 766 L566.7 766 Z" fill="#fff"/>
<g clip-path="url(#c20)"><path class="t" d="M542.7 792.4L633.3 701.9M551.1 800.8L641.7 710.3M559.6 809.3L650.1 718.7M568 817.7L658.5 727.1M576.4 826.1L666.9 735.5M584.8 834.5L675.3 744M593.2 842.9L683.8 752.4M601.6 851.3L692.2 760.8M610.1 859.7L700.6 769.2M618.5 868.2L709 777.6"/></g>
<path class="k" d="M566.7 805 L590 805 L590 794.9 L674 780.5 L686 779.9 L686 766 L566.7 766 Z"/>
<path class="k" d="M570.5 843.2 L570.5 805" />
<path class="k" d="M570.5 843.2 L593.7 843.2" />
<path class="k" d="M581.8 806.5 L581.8 832.5 L597 832.5" />
<path d="M583.5 831.5 L596.5 831.5 L595.5 824.5 L583.5 824.5 Z" fill="#fff"/>
<g clip-path="url(#c21)"><path class="t" d="M579.1 829.5L591.5 817.1M581.9 832.3L594.3 819.9M584.8 835.1L597.1 822.8M587.6 837.9L599.9 825.6"/></g>
<path class="t" d="M583.5 831.5 L596.5 831.5 L595.5 824.5 L583.5 824.5 Z"/>
<path d="M681 807.5 L687 809.5 L690 805.5 L689 799.5 L683 798.5 Z" fill="#fff"/>
<g clip-path="url(#c22)"><path class="t" d="M675.8 806.3L687.8 794.3M678.6 809.1L690.6 797.1M681.4 812L693.5 799.9M684.3 814.8L696.3 802.8"/></g>
<path class="t" d="M681 807.5 L687 809.5 L690 805.5 L689 799.5 L683 798.5 Z"/>
<path class="t" d="M586 817.5 L592 817.5" />
<path d="M547.5 789 L555.5 789 L555.5 760 L547.5 760 Z" fill="#fff"/>
<g clip-path="url(#c23)"><path class="t" d="M549.7 753.3L572.7 776.3M547.5 755.4L570.6 778.5M545.4 757.5L568.5 780.6M543.3 759.7L566.3 782.7M541.2 761.8L564.2 784.8M539.1 763.9L562.1 786.9M536.9 766L560 789.1M534.8 768.2L557.8 791.2M532.7 770.3L555.7 793.3M530.6 772.4L553.6 795.4"/></g>
<path class="k" d="M547.5 789 L555.5 789 L555.5 760 L547.5 760 Z"/>
<path d="M555.5 792 L566.7 792 L566.7 766 L555.5 766 Z" fill="#fff"/>
<g clip-path="url(#c24)"><path class="t" d="M557.3 760.9L579.2 782.8M550.9 767.3L572.8 789.2M544.6 773.7L566.4 795.5"/></g>
<path class="k" d="M555.5 792 L566.7 792 L566.7 766 L555.5 766 Z"/>
<path class="k" d="M684.7 827 L684.7 761.5" />
<path class="k" d="M690 825.5 L690 761.5" />
<path class="t" d="M695 822.5 L695 761.5" />
<path class="k" d="M699 825.5 L699 761.5" />
<path class="t" d="M705 817.5 L705 761.5" />
<path class="k" d="M684 761.5 L708 761.5" />
<path d="M686 904 L701 904 L701 834.5 L694 825.5 L686 830.5 Z" fill="#fff"/>
<g clip-path="url(#c25)"><path class="t" d="M687.8 812.3L746 870.4M682.2 817.9L740.3 876.1M676.5 823.6L734.7 881.8M670.8 829.2L729 887.4M665.2 834.9L723.4 893.1M659.5 840.5L717.7 898.7M653.9 846.2L712 904.4M648.2 851.9L706.4 910M642.6 857.5L700.7 915.7"/></g>
<path class="k" d="M686 904 L701 904 L701 834.5 L694 825.5 L686 830.5 Z"/>
<path d="M701 904 L802.5 904 L802.5 884.5 L708.8 834.5 L701 834.5 Z" fill="#fff"/>
<g clip-path="url(#c26)"><path class="t" d="M668.1 874.5L757 785.6M676.7 883.2L765.7 794.2M685.3 891.8L774.3 802.8M694 900.4L782.9 811.5M702.6 909L791.5 820.1M711.2 917.7L800.2 828.7M719.8 926.3L808.8 837.3M728.5 934.9L817.4 846M737.1 943.6L826.1 854.6M745.7 952.2L834.7 863.2"/></g>
<path class="k" d="M701 904 L802.5 904 L802.5 884.5 L708.8 834.5 L701 834.5 Z"/>
<path class="k" d="M709.5 836 L800 885.5 L823 830.5 L731 794.5 Z" style="fill:#fff"/>
<path class="c" d="M722 818.5 L818 858.5" />
<path d="M715 800.8 L731 794.5 L823 830.5 L818.5 848.5 L846.2 848.5 L846.2 777.5 L843.5 774.5 L715 774.5 Z" fill="#fff"/>
<g clip-path="url(#c27)"><path class="t" d="M773.4 710.3L881.8 818.8M764.9 718.7L873.4 827.2M756.5 727.1L865 835.6M748.1 735.5L856.6 844M739.7 743.9L848.2 852.4M731.3 752.4L839.8 860.8M722.9 760.8L831.3 869.2M714.5 769.2L822.9 877.7M706 777.6L814.5 886.1M697.6 786L806.1 894.5M689.2 794.4L797.7 902.9M680.8 802.9L789.3 911.3"/></g>
<path class="k" d="M715 800.8 L731 794.5 L823 830.5 L818.5 848.5 L846.2 848.5 L846.2 777.5 L843.5 774.5 L715 774.5 Z"/>
<path d="M802.5 884.5 L825 884.5 L825 875.8 L806.5 875.8 Z" fill="#fff"/>
<g clip-path="url(#c28)"><path class="t" d="M797.4 882.7L816.3 863.8M800.2 885.5L819.1 866.6M803.1 888.3L822 869.4M805.9 891.2L824.8 872.3M808.7 894L827.6 875.1M811.5 896.8L830.5 877.9"/></g>
<path class="t" d="M802.5 884.5 L825 884.5 L825 875.8 L806.5 875.8 Z"/>
<path class="k" d="M802.5 884.5 L826 884.5 L826 848.5" />
<path d="M699 830.5 L709 835.5 L713 826.5 L704 820.5 Z" fill="#fff"/>
<g clip-path="url(#c29)"><path class="t" d="M691.6 830.1L708.1 813.6M694.4 832.9L710.9 816.4M697.2 835.8L713.8 819.2M700.1 838.6L716.6 822.1M702.9 841.4L719.4 824.9M705.7 844.2L722.2 827.7"/></g>
<path class="t" d="M699 830.5 L709 835.5 L713 826.5 L704 820.5 Z"/>
<path class="k" d="M802.5 904 L802.5 884.5" />
<path class="t" d="M806 910.5 L806 884.5" />
<path class="k" d="M470.5 514 L470.5 560" />
<path class="k" d="M479.5 558 L479.5 507.6 L491.4 507.6 L491.4 558" />
<path class="t" d="M480 541.5 L491.4 541.5" />
<path class="k" d="M534.7 484 L534.7 549" />
<path class="k" d="M535 493 L537 488.5 L543 485.5 L570.5 485.5" />
<path class="b" d="M493.5 515.8 L522.8 515.8 L522.8 558.5 L493.5 558.5 Z"/>
<path class="w" d="M502.7 527.7 L520.3 527.7 L520.3 551 L513 548 L510 541 L507 548 L502.7 551 Z"/>
<path class="d" d="M492.3 516 L492.3 558" />
<path class="k" d="M522.8 514 L534.7 514" />
<path class="k" d="M470.5 800.5 L470.5 754.5" />
<path class="k" d="M479.5 756.5 L479.5 806.9 L491.4 806.9 L491.4 756.5" />
<path class="t" d="M480 773 L491.4 773" />
<path class="k" d="M534.7 830.5 L534.7 765.5" />
<path class="k" d="M535 821.5 L537 826 L543 829 L570.5 829" />
<path class="b" d="M493.5 798.7 L522.8 798.7 L522.8 756 L493.5 756 Z"/>
<path class="w" d="M502.7 786.8 L520.3 786.8 L520.3 763.5 L513 766.5 L510 773.5 L507 766.5 L502.7 763.5 Z"/>
<path class="d" d="M492.3 798.5 L492.3 756.5" />
<path class="k" d="M522.8 800.5 L534.7 800.5" />
<path d="M481 782 L490 782 L490 806 L481 806 Z" fill="#fff"/>
<g clip-path="url(#c30)"><path class="t" d="M482.7 776.8L502.7 796.8M480.4 779.1L500.4 799.1M478.2 781.4L498.1 801.3M475.9 783.6L495.9 803.6M473.6 785.9L493.6 805.9M471.4 788.2L491.3 808.1M469.1 790.4L489.1 810.4M466.9 792.7L486.8 812.6"/></g>
<path class="k" d="M481 782 L490 782 L490 806 L481 806 Z"/>
<path d="M917.5 397 L917.5 349 L930 349 L930 342.5 L941 342.5 L943 347 L947 352.5 L1117.5 352.5 L1129 362 L1232.5 395 L1240 399 L1246 401 L1255 401 L1259 392 L1262 384 L1265 379 L1268.8 377.5 L1271.2 390 L1376.2 372.5 L1376 370 L1387.5 370 L1426.5 383 L1389 487.5 L1319 462.5 L1125 397 Z" fill="#fff"/>
<g clip-path="url(#c31)"><path class="t" d="M1139.9 71.1L1515.9 447.1M1126 85L1502 461M1112.2 98.8L1488.2 474.8M1098.3 112.7L1474.3 488.7M1084.5 126.6L1460.4 502.5M1070.6 140.4L1446.6 516.4M1056.7 154.3L1432.7 530.3M1042.9 168.1L1418.9 544.1M1029 182L1405 558M1015.2 195.9L1391.1 571.8M1001.3 209.7L1377.3 585.7M987.4 223.6L1363.4 599.6M973.6 237.4L1349.6 613.4M959.7 251.3L1335.7 627.3M945.9 265.1L1321.9 641.1M932 279L1308 655M918.1 292.9L1294.1 668.9M904.3 306.7L1280.3 682.7M890.4 320.6L1266.4 696.6M876.6 334.4L1252.6 710.4M862.7 348.3L1238.7 724.3M848.9 362.2L1224.8 738.1M835 376L1211 752M821.1 389.9L1197.1 765.9"/></g>
<path class="k" d="M917.5 397 L917.5 349 L930 349 L930 342.5 L941 342.5 L943 347 L947 352.5 L1117.5 352.5 L1129 362 L1232.5 395 L1240 399 L1246 401 L1255 401 L1259 392 L1262 384 L1265 379 L1268.8 377.5 L1271.2 390 L1376.2 372.5 L1376 370 L1387.5 370 L1426.5 383 L1389 487.5 L1319 462.5 L1125 397 Z"/>
<rect class="k" x="1385" y="456" width="13" height="14" transform="rotate(19 1391 463)" style="fill:#fff"/>
<circle class="t" cx="1391.5" cy="463" r="5"/>
<g transform="translate(1311.9 260.6) rotate(-8.93)">
<path class="t" d="M-46 -32 L34 -32 M-46 -32 L-44 50 L-58 108 M34 -32 L33 48 L48 118"/>
<path class="k" style="fill:#fff" d="M-22.6 121 V237 L-15 245 V272 H17.5 V245 L22.6 237 V121Z"/>
<path class="t" d="M-19 121V240M19 121V240M-15 245H17.5M-22.6 237H22.6"/>
<path class="k" style="fill:#fff" d="M-60.8 109 H46 V121 H-60.2Z"/>
<path class="k" style="fill:#fff" d="M-41 108 V85 L-34 80.5 H38 L43.5 85 V109Z"/>
<path class="t" d="M-41 85H43.5M-18 85V108M22.6 85V108"/>
<path class="k" style="fill:#fff" d="M-23.4 84 V0 Q-23 -5 -18 -6 H18 Q23 -5 23.4 0 V84"/>
<path class="t" d="M-20 82V-3M20 82V-3"/>
<path class="c" d="M0 -41V276"/>
</g>
<g transform="translate(913 657.5) rotate(31.7)">
<path d="M134 -199 L361.5 -199 L373 -189 L401 -162 A1082 1082 0 0 0 400 152 L395 167 L361 200 L131 199 Z" fill="#fff"/>
<g clip-path="url(#c32)"><path class="t" d="M-79.5 6.5L271.5 -344.5M-71.2 14.8L279.8 -336.2M-63 23.1L288.1 -328M-54.7 31.4L296.4 -319.7M-46.4 39.6L304.6 -311.4M-38.2 47.9L312.9 -303.2M-29.9 56.2L321.2 -294.9M-21.6 64.5L329.5 -286.6M-13.3 72.7L337.7 -278.3M-5.1 81L346 -270.1M3.2 89.3L354.3 -261.8M11.5 97.6L362.6 -253.5M19.8 105.8L370.8 -245.2M28 114.1L379.1 -237M36.3 122.4L387.4 -228.7M44.6 130.6L395.6 -220.4M52.8 138.9L403.9 -212.2M61.1 147.2L412.2 -203.9M69.4 155.5L420.5 -195.6M77.7 163.7L428.7 -187.3M85.9 172L437 -179.1M94.2 180.3L445.3 -170.8M102.5 188.6L453.6 -162.5M110.8 196.8L461.8 -154.2M119 205.1L470.1 -146M127.3 213.4L478.4 -137.7M135.6 221.7L486.7 -129.4M143.9 229.9L494.9 -121.1M152.1 238.2L503.2 -112.9M160.4 246.5L511.5 -104.6M168.7 254.7L519.7 -96.3M176.9 263L528 -88.1M185.2 271.3L536.3 -79.8M193.5 279.6L544.6 -71.5M201.8 287.8L552.8 -63.2M210 296.1L561.1 -55M218.3 304.4L569.4 -46.7M226.6 312.7L577.7 -38.4M234.9 320.9L585.9 -30.1M243.1 329.2L594.2 -21.9M251.4 337.5L602.5 -13.6M259.7 345.7L610.7 -5.3"/></g>
<path class="k" d="M134 -199 L361.5 -199 L373 -189 L401 -162 A1082 1082 0 0 0 400 152 L395 167 L361 200 L131 199 Z"/>
</g>
<g transform="translate(913 657.5) rotate(31.7)">
<path class="k" style="fill:#fff" d="M134 -175.6 H340 V-170 H356 V-105 H340 V-99.6 H134"/>
<path class="t" d="M340 -170 V-105 M340 -175.6L356 -138 L340 -99.6"/>
<path class="k" style="fill:#fff" d="M131 100 H351 L368 138 L351 176 H131"/>
<path class="k" style="fill:#fff" d="M132 -53 H337 V-22 H389.5 V22 H337 V53 H132"/>
<path class="c" d="M120 -138H420M110 138H420"/>
</g>
<g transform="translate(913 657.5) rotate(31.7)">
<path d="M133.5 -174.4V-100.8M132 -51.8V51.8" style="stroke:#fff;stroke-width:5;fill:none"/>
<path class="k" d="M131 160H304M131 99V177"/>
</g>
<g transform="translate(913 657.5) rotate(31.7)">
<path d="M26 -47.4 L34 -39 L42 -34 L54 -31.5 L66 -36 L85 -46.5 L100 -48.5 H150 L163 -38 V38 L150 48.5 H100 L85 48.5 L74 43 L60 36 L47 33 L43 32.7 A54 54 0 1 1 26 -47.4Z" fill="#fff"/>
<g clip-path="url(#c33)"><path class="t" d="M-109.1 155.7L-13.1 -250.7M-100.6 157.7L-4.5 -248.7M-92 159.7L4.1 -246.7M-83.4 161.7L12.6 -244.7M-74.9 163.8L21.2 -242.6M-66.3 165.8L29.8 -240.6M-57.8 167.8L38.3 -238.6M-49.2 169.8L46.9 -236.6M-40.6 171.9L55.4 -234.5M-32.1 173.9L64 -232.5M-23.5 175.9L72.6 -230.5M-14.9 177.9L81.1 -228.5M-6.4 180L89.7 -226.5M2.2 182L98.3 -224.4M10.8 184L106.8 -222.4M19.3 186L115.4 -220.4M27.9 188.1L124 -218.4M36.4 190.1L132.5 -216.3M45 192.1L141.1 -214.3M53.6 194.1L149.6 -212.3M62.1 196.2L158.2 -210.3M70.7 198.2L166.8 -208.2M79.3 200.2L175.3 -206.2M87.8 202.2L183.9 -204.2M96.4 204.3L192.5 -202.2M105 206.3L201 -200.1M113.5 208.3L209.6 -198.1M122.1 210.3L218.2 -196.1M130.7 212.4L226.7 -194.1M139.2 214.4L235.3 -192M147.8 216.4L243.9 -190M156.3 218.4L252.4 -188M164.9 220.4L261 -186M173.5 222.5L269.5 -183.9M182 224.5L278.1 -181.9M190.6 226.5L286.7 -179.9M199.2 228.5L295.2 -177.9M207.7 230.6L303.8 -175.8M216.3 232.6L312.4 -173.8M224.9 234.6L320.9 -171.8M233.4 236.6L329.5 -169.8M242 238.7L338.1 -167.7M250.5 240.7L346.6 -165.7M259.1 242.7L355.2 -163.7M267.7 244.7L363.7 -161.7M276.2 246.8L372.3 -159.6M284.8 248.8L380.9 -157.6M293.4 250.8L389.4 -155.6"/></g>
<path class="k" d="M26 -47.4 L34 -39 L42 -34 L54 -31.5 L66 -36 L85 -46.5 L100 -48.5 H150 L163 -38 V38 L150 48.5 H100 L85 48.5 L74 43 L60 36 L47 33 L43 32.7 A54 54 0 1 1 26 -47.4Z"/>
</g>
<g transform="translate(913 657.5) rotate(31.7)">
<path d="M-10 0H163" style="stroke:#fff;stroke-width:9;fill:none"/>
<path class="k" d="M-12 -4.8H163M-12 4.8H163"/>
<path class="k" style="fill:#fff" d="M157 -8 H176 V8 H157Z"/>
<path class="t" d="M150 -45H337M150 45H337"/>
<path class="k" d="M163 -37.5H322M163 37.5H322"/>
</g>
<g transform="translate(913 657.5) rotate(31.7)">
<path d="M322 -44 L337 -44 L337 -12 L322 -12 Z" fill="#fff"/>
<g clip-path="url(#c34)"><path class="t" d="M328.7 -56L357.5 -27.2M326.4 -53.7L355.2 -24.9M324.2 -51.4L352.9 -22.7M321.9 -49.2L350.7 -20.4M319.6 -46.9L348.4 -18.1M317.4 -44.7L346.2 -15.9M315.1 -42.4L343.9 -13.6M312.9 -40.1L341.6 -11.4M310.6 -37.9L339.4 -9.1M308.3 -35.6L337.1 -6.8M306.1 -33.3L334.8 -4.6M303.8 -31.1L332.6 -2.3M301.5 -28.8L330.3 -0"/></g>
<path class="k" d="M322 -44 L337 -44 L337 -12 L322 -12 Z"/>
</g>
<g transform="translate(913 657.5) rotate(31.7)">
<path d="M322 12 L337 12 L337 44 L322 44 Z" fill="#fff"/>
<g clip-path="url(#c35)"><path class="t" d="M327.3 1.4L356.1 30.2M325 3.7L353.8 32.5M322.8 6L351.5 34.7M320.5 8.2L349.3 37M318.2 10.5L347 39.3M316 12.8L344.7 41.5M313.7 15L342.5 43.8M311.4 17.3L340.2 46.1M309.2 19.5L338 48.3M306.9 21.8L335.7 50.6M304.6 24.1L333.4 52.9M302.4 26.3L331.2 55.1"/></g>
<path class="k" d="M322 12 L337 12 L337 44 L322 44 Z"/>
</g>
<g transform="translate(913 657.5) rotate(31.7)">
<path d="M162.7 -28 a8.3 8.3 0 1 0 16.6 0 a8.3 8.3 0 1 0 -16.6 0Z" fill="#fff"/>
<g clip-path="url(#c36)"><path class="t" d="M170.7 -45.7L188.7 -27.7M168.3 -43.3L186.3 -25.3M165.9 -40.9L183.9 -22.9M163.5 -38.5L181.5 -20.5M161.1 -36.1L179.1 -18.1M158.7 -33.7L176.7 -15.7M156.3 -31.3L174.3 -13.3M153.9 -28.9L171.9 -10.9"/></g>
<path class="k" d="M162.7 -28 a8.3 8.3 0 1 0 16.6 0 a8.3 8.3 0 1 0 -16.6 0Z"/>
</g>
<g transform="translate(913 657.5) rotate(31.7)">
<path d="M170.7 28 a8.3 8.3 0 1 0 16.6 0 a8.3 8.3 0 1 0 -16.6 0Z" fill="#fff"/>
<g clip-path="url(#c37)"><path class="t" d="M178.6 10.4L196.6 28.4M176.2 12.8L194.2 30.8M173.8 15.2L191.8 33.2M171.4 17.6L189.4 35.6M169 20L187 38M166.6 22.4L184.6 40.4M164.2 24.8L182.2 42.8M161.8 27.2L179.8 45.2"/></g>
<path class="k" d="M170.7 28 a8.3 8.3 0 1 0 16.6 0 a8.3 8.3 0 1 0 -16.6 0Z"/>
</g>
<g transform="translate(913 657.5) rotate(31.7)">
<path d="M179.9 -28 a8.3 8.3 0 1 0 16.6 0 a8.3 8.3 0 1 0 -16.6 0Z" fill="#fff"/>
<g clip-path="url(#c38)"><path class="t" d="M186.5 -44.3L204.5 -26.3M184.1 -41.9L202.1 -23.9M181.7 -39.5L199.7 -21.5M179.3 -37.1L197.3 -19.1M176.9 -34.7L194.9 -16.7M174.5 -32.3L192.5 -14.3M172.1 -29.9L190.1 -11.9"/></g>
<path class="k" d="M179.9 -28 a8.3 8.3 0 1 0 16.6 0 a8.3 8.3 0 1 0 -16.6 0Z"/>
</g>
<g transform="translate(913 657.5) rotate(31.7)">
<path d="M187.9 28 a8.3 8.3 0 1 0 16.6 0 a8.3 8.3 0 1 0 -16.6 0Z" fill="#fff"/>
<g clip-path="url(#c39)"><path class="t" d="M194.5 11.7L212.5 29.7M192.1 14.1L210.1 32.1M189.6 16.6L207.6 34.6M187.2 19L205.2 37M184.8 21.4L202.8 39.4M182.4 23.8L200.4 41.8M180 26.2L198 44.2"/></g>
<path class="k" d="M187.9 28 a8.3 8.3 0 1 0 16.6 0 a8.3 8.3 0 1 0 -16.6 0Z"/>
</g>
<g transform="translate(913 657.5) rotate(31.7)">
<path d="M197.1 -28 a8.3 8.3 0 1 0 16.6 0 a8.3 8.3 0 1 0 -16.6 0Z" fill="#fff"/>
<g clip-path="url(#c40)"><path class="t" d="M204.7 -45.3L222.7 -27.3M202.3 -42.9L220.3 -24.9M199.9 -40.5L217.9 -22.5M197.5 -38.1L215.5 -20.1M195.1 -35.7L213.1 -17.7M192.7 -33.3L210.7 -15.3M190.3 -30.9L208.3 -12.9M187.9 -28.5L205.9 -10.5"/></g>
<path class="k" d="M197.1 -28 a8.3 8.3 0 1 0 16.6 0 a8.3 8.3 0 1 0 -16.6 0Z"/>
</g>
<g transform="translate(913 657.5) rotate(31.7)">
<path d="M205.1 28 a8.3 8.3 0 1 0 16.6 0 a8.3 8.3 0 1 0 -16.6 0Z" fill="#fff"/>
<g clip-path="url(#c41)"><path class="t" d="M212.7 10.7L230.7 28.7M210.3 13.1L228.3 31.1M207.9 15.5L225.9 33.5M205.5 17.9L223.5 35.9M203.1 20.3L221.1 38.3M200.7 22.7L218.7 40.7M198.2 25.2L216.2 43.2M195.8 27.6L213.8 45.6"/></g>
<path class="k" d="M205.1 28 a8.3 8.3 0 1 0 16.6 0 a8.3 8.3 0 1 0 -16.6 0Z"/>
</g>
<g transform="translate(913 657.5) rotate(31.7)">
<path d="M214.3 -28 a8.3 8.3 0 1 0 16.6 0 a8.3 8.3 0 1 0 -16.6 0Z" fill="#fff"/>
<g clip-path="url(#c42)"><path class="t" d="M220.5 -43.9L238.5 -25.9M218.1 -41.5L236.1 -23.5M215.7 -39.1L233.7 -21.1M213.3 -36.7L231.3 -18.7M210.9 -34.3L228.9 -16.3M208.5 -31.9L226.5 -13.9M206.1 -29.5L224.1 -11.5"/></g>
<path class="k" d="M214.3 -28 a8.3 8.3 0 1 0 16.6 0 a8.3 8.3 0 1 0 -16.6 0Z"/>
</g>
<g transform="translate(913 657.5) rotate(31.7)">
<path d="M222.3 28 a8.3 8.3 0 1 0 16.6 0 a8.3 8.3 0 1 0 -16.6 0Z" fill="#fff"/>
<g clip-path="url(#c43)"><path class="t" d="M228.5 12.1L246.5 30.1M226.1 14.5L244.1 32.5M223.7 16.9L241.7 34.9M221.3 19.3L239.3 37.3M218.9 21.7L236.9 39.7M216.5 24.1L234.5 42.1M214.1 26.5L232.1 44.5"/></g>
<path class="k" d="M222.3 28 a8.3 8.3 0 1 0 16.6 0 a8.3 8.3 0 1 0 -16.6 0Z"/>
</g>
<g transform="translate(913 657.5) rotate(31.7)">
<path d="M231.5 -28 a8.3 8.3 0 1 0 16.6 0 a8.3 8.3 0 1 0 -16.6 0Z" fill="#fff"/>
<g clip-path="url(#c44)"><path class="t" d="M238.7 -44.9L256.7 -26.9M236.3 -42.5L254.3 -24.5M233.9 -40.1L251.9 -22.1M231.5 -37.7L249.5 -19.7M229.1 -35.3L247.1 -17.3M226.7 -32.9L244.7 -14.9M224.3 -30.5L242.3 -12.5M221.9 -28.1L239.9 -10.1"/></g>
<path class="k" d="M231.5 -28 a8.3 8.3 0 1 0 16.6 0 a8.3 8.3 0 1 0 -16.6 0Z"/>
</g>
<g transform="translate(913 657.5) rotate(31.7)">
<path d="M239.5 28 a8.3 8.3 0 1 0 16.6 0 a8.3 8.3 0 1 0 -16.6 0Z" fill="#fff"/>
<g clip-path="url(#c45)"><path class="t" d="M246.7 11.1L264.7 29.1M244.3 13.5L262.3 31.5M241.9 15.9L259.9 33.9M239.5 18.3L257.5 36.3M237.1 20.7L255.1 38.7M234.7 23.1L252.7 41.1M232.3 25.5L250.3 43.5M229.9 27.9L247.9 45.9"/></g>
<path class="k" d="M239.5 28 a8.3 8.3 0 1 0 16.6 0 a8.3 8.3 0 1 0 -16.6 0Z"/>
</g>
<g transform="translate(913 657.5) rotate(31.7)">
<path d="M248.7 -28 a8.3 8.3 0 1 0 16.6 0 a8.3 8.3 0 1 0 -16.6 0Z" fill="#fff"/>
<g clip-path="url(#c46)"><path class="t" d="M257 -46L275 -28M254.6 -43.6L272.6 -25.6M252.2 -41.2L270.2 -23.2M249.7 -38.7L267.7 -20.7M247.3 -36.3L265.3 -18.3M244.9 -33.9L262.9 -15.9M242.5 -31.5L260.5 -13.5M240.1 -29.1L258.1 -11.1"/></g>
<path class="k" d="M248.7 -28 a8.3 8.3 0 1 0 16.6 0 a8.3 8.3 0 1 0 -16.6 0Z"/>
</g>
<g transform="translate(913 657.5) rotate(31.7)">
<path d="M256.7 28 a8.3 8.3 0 1 0 16.6 0 a8.3 8.3 0 1 0 -16.6 0Z" fill="#fff"/>
<g clip-path="url(#c47)"><path class="t" d="M264.9 10.1L282.9 28.1M262.5 12.5L280.5 30.5M260.1 14.9L278.1 32.9M257.7 17.3L275.7 35.3M255.3 19.7L273.3 37.7M252.9 22.1L270.9 40.1M250.5 24.5L268.5 42.5M248.1 26.9L266.1 44.9"/></g>
<path class="k" d="M256.7 28 a8.3 8.3 0 1 0 16.6 0 a8.3 8.3 0 1 0 -16.6 0Z"/>
</g>
<g transform="translate(913 657.5) rotate(31.7)">
<path d="M265.9 -28 a8.3 8.3 0 1 0 16.6 0 a8.3 8.3 0 1 0 -16.6 0Z" fill="#fff"/>
<g clip-path="url(#c48)"><path class="t" d="M272.8 -44.6L290.8 -26.6M270.4 -42.2L288.4 -24.2M268 -39.8L286 -21.8M265.6 -37.4L283.6 -19.4M263.2 -35L281.2 -17M260.8 -32.6L278.8 -14.6M258.3 -30.1L276.3 -12.1"/></g>
<path class="k" d="M265.9 -28 a8.3 8.3 0 1 0 16.6 0 a8.3 8.3 0 1 0 -16.6 0Z"/>
</g>
<g transform="translate(913 657.5) rotate(31.7)">
<path d="M273.9 28 a8.3 8.3 0 1 0 16.6 0 a8.3 8.3 0 1 0 -16.6 0Z" fill="#fff"/>
<g clip-path="url(#c49)"><path class="t" d="M280.7 11.5L298.7 29.5M278.3 13.9L296.3 31.9M275.9 16.3L293.9 34.3M273.5 18.7L291.5 36.7M271.1 21.1L289.1 39.1M268.7 23.5L286.7 41.5M266.3 25.9L284.3 43.9"/></g>
<path class="k" d="M273.9 28 a8.3 8.3 0 1 0 16.6 0 a8.3 8.3 0 1 0 -16.6 0Z"/>
</g>
<g transform="translate(913 657.5) rotate(31.7)">
<path d="M283.1 -28 a8.3 8.3 0 1 0 16.6 0 a8.3 8.3 0 1 0 -16.6 0Z" fill="#fff"/>
<g clip-path="url(#c50)"><path class="t" d="M291 -45.6L309 -27.6M288.6 -43.2L306.6 -25.2M286.2 -40.8L304.2 -22.8M283.8 -38.4L301.8 -20.4M281.4 -36L299.4 -18M279 -33.6L297 -15.6M276.6 -31.2L294.6 -13.2M274.2 -28.8L292.2 -10.8"/></g>
<path class="k" d="M283.1 -28 a8.3 8.3 0 1 0 16.6 0 a8.3 8.3 0 1 0 -16.6 0Z"/>
</g>
<g transform="translate(913 657.5) rotate(31.7)">
<path d="M291.1 28 a8.3 8.3 0 1 0 16.6 0 a8.3 8.3 0 1 0 -16.6 0Z" fill="#fff"/>
<g clip-path="url(#c51)"><path class="t" d="M298.9 10.5L316.9 28.5M296.5 12.9L314.5 30.9M294.1 15.3L312.1 33.3M291.7 17.7L309.7 35.7M289.3 20.1L307.3 38.1M286.9 22.5L304.9 40.5M284.5 24.9L302.5 42.9M282.1 27.3L300.1 45.3"/></g>
<path class="k" d="M291.1 28 a8.3 8.3 0 1 0 16.6 0 a8.3 8.3 0 1 0 -16.6 0Z"/>
</g>
<g transform="translate(913 657.5) rotate(31.7)">
<path d="M300.3 -28 a8.3 8.3 0 1 0 16.6 0 a8.3 8.3 0 1 0 -16.6 0Z" fill="#fff"/>
<g clip-path="url(#c52)"><path class="t" d="M306.8 -44.2L324.8 -26.2M304.4 -41.8L322.4 -23.8M302 -39.4L320 -21.4M299.6 -37L317.6 -19M297.2 -34.6L315.2 -16.6M294.8 -32.2L312.8 -14.2M292.4 -29.8L310.4 -11.8"/></g>
<path class="k" d="M300.3 -28 a8.3 8.3 0 1 0 16.6 0 a8.3 8.3 0 1 0 -16.6 0Z"/>
</g>
<g transform="translate(913 657.5) rotate(31.7)">
<path d="M308.3 28 a8.3 8.3 0 1 0 16.6 0 a8.3 8.3 0 1 0 -16.6 0Z" fill="#fff"/>
<g clip-path="url(#c53)"><path class="t" d="M314.8 11.8L332.8 29.8M312.4 14.2L330.4 32.2M310 16.6L328 34.6M307.5 19.1L325.5 37.1M305.1 21.5L323.1 39.5M302.7 23.9L320.7 41.9M300.3 26.3L318.3 44.3"/></g>
<path class="k" d="M308.3 28 a8.3 8.3 0 1 0 16.6 0 a8.3 8.3 0 1 0 -16.6 0Z"/>
</g>
<g transform="translate(913 657.5) rotate(31.7)">
<path class="k3" style="stroke-width:3" d="M178 -22 L184 22"/>
<path class="t" d="M166 -21 L172 21"/>
<path class="k3" style="stroke-width:3" d="M195.2 -22 L201.2 22"/>
<path class="t" d="M183.2 -21 L189.2 21"/>
<path class="k3" style="stroke-width:3" d="M212.4 -22 L218.4 22"/>
<path class="t" d="M200.4 -21 L206.4 21"/>
<path class="k3" style="stroke-width:3" d="M229.6 -22 L235.6 22"/>
<path class="t" d="M217.6 -21 L223.6 21"/>
<path class="k3" style="stroke-width:3" d="M246.8 -22 L252.8 22"/>
<path class="t" d="M234.8 -21 L240.8 21"/>
<path class="k3" style="stroke-width:3" d="M264 -22 L270 22"/>
<path class="t" d="M252 -21 L258 21"/>
<path class="k3" style="stroke-width:3" d="M281.2 -22 L287.2 22"/>
<path class="t" d="M269.2 -21 L275.2 21"/>
<path class="k3" style="stroke-width:3" d="M298.4 -22 L304.4 22"/>
<path class="t" d="M286.4 -21 L292.4 21"/>
<path class="k3" style="stroke-width:3" d="M315.6 -22 L321.6 22"/>
<path class="t" d="M303.6 -21 L309.6 21"/>
<path class="c" d="M-70 0H470"/>
</g>
<path class="t" d="M913 596 L913 720"/>
<path class="t" d="M850 657.5 L975 657.5"/>
<g transform="translate(912 507) rotate(30.0)">
<path d="M33.3 -28 L42 -26.5 L50 -28 L57 -31.5 L214 -37.5 L267 -37.5 L267 37.5 L214 37.5 L57 31.5 L50 28 L42 26.5 L33.3 28 A43.5 43.5 0 1 1 33.3 -28Z" fill="#fff"/>
<g clip-path="url(#c54)"><path class="t" d="M91.7 -218.8L328.8 18.3M83.3 -210.4L320.4 26.7M74.9 -202L312 35.1M66.5 -193.6L303.6 43.5M58.1 -185.2L295.2 51.9M49.7 -176.7L286.7 60.3M41.3 -168.3L278.3 68.7M32.8 -159.9L269.9 77.2M24.4 -151.5L261.5 85.6M16 -143.1L253.1 94M7.6 -134.7L244.7 102.4M-0.8 -126.3L236.3 110.8M-9.2 -117.8L227.8 119.2M-17.6 -109.4L219.4 127.6M-26.1 -101L211 136.1M-34.5 -92.6L202.6 144.5M-42.9 -84.2L194.2 152.9M-51.3 -75.8L185.8 161.3M-59.7 -67.4L177.4 169.7M-68.1 -58.9L168.9 178.1M-76.5 -50.5L160.5 186.5M-85 -42.1L152.1 195M-93.4 -33.7L143.7 203.4M-101.8 -25.3L135.3 211.8M-110.2 -16.9L126.9 220.2"/></g>
<path class="k" d="M33.3 -28 L42 -26.5 L50 -28 L57 -31.5 L214 -37.5 L267 -37.5 L267 37.5 L214 37.5 L57 31.5 L50 28 L42 26.5 L33.3 28 A43.5 43.5 0 1 1 33.3 -28Z"/>
</g>
<g transform="translate(912 507) rotate(30.0)">
<path d="M-12 0H267" style="stroke:#fff;stroke-width:9;fill:none"/>
<path class="k" d="M-14 -4.3H267M-14 4.3H267"/>
<path class="c" d="M-20 0H300"/>
<rect class="k" style="fill:#fff;stroke-width:1.6" x="222" y="-37" width="9" height="8" rx="2"/>
<rect class="k" style="fill:#fff;stroke-width:1.6" x="222" y="29" width="9" height="8" rx="2"/>
<rect class="k" style="fill:#fff;stroke-width:1.6" x="243" y="-37" width="9" height="8" rx="2"/>
<rect class="k" style="fill:#fff;stroke-width:1.6" x="243" y="29" width="9" height="8" rx="2"/>
<path class="t" d="M214 -37.5L267 37.5M214 37.5L267 -37.5M0 -47V-8M0 8V47"/>
</g>
<path class="k" d="M877 480 Q864.5 488 863.5 500 V512 Q864.5 524 875 533"/>
<path class="k" style="fill:#fff;stroke-width:2.6" d="M856 758 L863 750.4 H926.5 V740.5 H937 Q940.6 758 937 775.5 H926.5 V765.6 H863Z"/>
<path class="k" style="stroke-width:2.4" d="M866 750.4V765.6M876 750.4V765.6M880 750.4V765.6M904 750.4V765.6M926.5 750.4V765.6M887 758H944M905 755H926M905 761H926"/>
<path class="t" d="M852 758H946"/>
<path class="k" style="fill:#fff;stroke-width:2.6" d="M856 838 L863 830.4 H926.5 V820.5 H937 Q940.6 838 937 855.5 H926.5 V845.6 H863Z"/>
<path class="k" style="stroke-width:2.4" d="M866 830.4V845.6M876 830.4V845.6M880 830.4V845.6M904 830.4V845.6M926.5 830.4V845.6M887 838H944M905 835H926M905 841H926"/>
<path class="t" d="M852 838H946"/>
<path class="d" d="M872 790 A43.5 43.5 0 0 0 905 851" style="stroke-width:1.6;stroke-dasharray:6 5"/>
<path class="d" d="M884 775 L900 800 M892 772 L915 806 M872 800 L890 828" style="stroke-width:1.6;stroke-dasharray:6 5"/>
<path class="k" d="M937 772 Q953 790 955 812 Q962 830 980 832"/>
<g transform="translate(913 657.5) rotate(31.7)">
<path class="k" style="fill:#fff" d="M302 103 H351 L367.5 137 L351 176 H302Z"/>
<path class="k" d="M306 103V176M318 103V176M334 103V176M349 103V176"/>
<path class="t" d="M312 103V176M326 103V176M341 103V176M356 112V165M362 124V151M302 120H352M302 158H352"/>
<rect class="k" style="fill:#fff;stroke-width:1.6" x="307.5" y="104" width="9" height="8" rx="2"/>
<rect class="k" style="fill:#fff;stroke-width:1.6" x="307.5" y="167" width="9" height="8" rx="2"/>
</g>
<g transform="translate(1438.75 348.75) rotate(19)">
<path d="M0 0 H271 V204 Q272 212 281 212.5 L295 214 L297 886 L300 1038 Q300 1046 293 1046 H31 Q23 1046 23 1038 L22 889 L-1 886 L-3 727 A463.5 463.5 0 0 0 0 179.1 Z" fill="#fff"/>
<g clip-path="url(#c55)"><path class="t" d="M-579.4 579.8L202.3 -201.9M-565.5 593.6L216.1 -188M-551.6 607.5L230 -174.1M-537.8 621.4L243.9 -160.3M-523.9 635.2L257.7 -146.4M-510.1 649.1L271.6 -132.6M-496.2 662.9L285.4 -118.7M-482.3 676.8L299.3 -104.8M-468.5 690.7L313.2 -91M-454.6 704.5L327 -77.1M-440.8 718.4L340.9 -63.3M-426.9 732.2L354.7 -49.4M-413 746.1L368.6 -35.5M-399.2 760L382.5 -21.7M-385.3 773.8L396.3 -7.8M-371.5 787.7L410.2 6M-357.6 801.5L424 19.9M-343.8 815.4L437.9 33.7M-329.9 829.2L451.7 47.6M-316 843.1L465.6 61.5M-302.2 857L479.5 75.3M-288.3 870.8L493.3 89.2M-274.5 884.7L507.2 103M-260.6 898.5L521 116.9M-246.7 912.4L534.9 130.8M-232.9 926.3L548.8 144.6M-219 940.1L562.6 158.5M-205.2 954L576.5 172.3M-191.3 967.8L590.3 186.2M-177.4 981.7L604.2 200.1M-163.6 995.6L618.1 213.9M-149.7 1009.4L631.9 227.8M-135.9 1023.3L645.8 241.6M-122 1037.1L659.6 255.5M-108.1 1051L673.5 269.4M-94.3 1064.9L687.4 283.2M-80.4 1078.7L701.2 297.1M-66.6 1092.6L715.1 310.9M-52.7 1106.4L728.9 324.8M-38.8 1120.3L742.8 338.7M-25 1134.2L756.7 352.5M-11.1 1148L770.5 366.4M2.7 1161.9L784.4 380.2M16.6 1175.7L798.2 394.1M30.5 1189.6L812.1 408M44.3 1203.5L826 421.8M58.2 1217.3L839.8 435.7M72 1231.2L853.7 449.5M85.9 1245L867.5 463.4M99.7 1258.9L881.4 477.2"/></g>
<path class="k" d="M0 0 H271 V204 Q272 212 281 212.5 L295 214 L297 886 L300 1038 Q300 1046 293 1046 H31 Q23 1046 23 1038 L22 889 L-1 886 L-3 727 A463.5 463.5 0 0 0 0 179.1 Z"/>
</g>
<g transform="translate(1438.75 348.75) rotate(19)">
<path class="k" style="stroke-width:1.8" d="M19 0 V-84 Q19 -90 25 -90 H265 Q271 -90 271 -84 V0"/>
<path class="k" style="stroke-width:1.8" d="M111.5 0 V-45 A50.5 50.5 0 0 1 212.5 -45 V0"/>
<path class="c" d="M108 -45H216"/>
<path class="w" d="M43 8H68V330H43Z M33 0H79V8H33Z"/>
<path class="k" d="M43 8V257M68 8V325M33 0V8H43M68 8H79V0"/>
<path class="k3" d="M32 3.5H80"/>
<path class="c" d="M55.5 -8V335"/>
<path class="w" d="M105.5 0H216V304.6H220V524H103.5V304.6H105.5Z"/>
<path class="k" d="M105.5 0V304.6H103.5V331H71M216 0V304.6M202 304.6H220V594"/>
<path class="k3" style="stroke-width:4" d="M104 1.5H217"/>
<path class="w" d="M72.3 331H103.5V524H82.3A463.5 463.5 0 0 0 72.3 331Z"/>
<path class="k" d="M103.5 331V498"/>
<path class="w" d="M66 524H220V594H66Z"/>
<path class="k" d="M66.5 594H204"/>
<path class="k3" style="stroke-width:4" d="M203.6 524V594"/>
</g>
<g transform="translate(1438.75 348.75) rotate(19)">
<path d="M106 194 L127 194 L127 249 L106 249 Z" fill="#fff"/>
<g clip-path="url(#c56)"><path class="t" d="M72.4 218.8L121.5 177.6M74.6 221.4L123.7 180.3M76.8 224L125.9 182.9M79 226.6L128.1 185.5M81.2 229.3L130.3 188.1M83.4 231.9L132.5 190.7M85.6 234.5L134.6 193.3M87.7 237.1L136.8 195.9M89.9 239.7L139 198.5M92.1 242.3L141.2 201.1M94.3 244.9L143.4 203.7M96.5 247.5L145.6 206.3M98.7 250.1L147.8 208.9M100.9 252.7L149.9 211.5M103 255.3L152.1 214.1M105.2 257.9L154.3 216.7M107.4 260.5L156.5 219.3M109.6 263.1L158.7 221.9"/></g>
<path class="k" d="M106 194 L127 194 L127 249 L106 249 Z"/>
</g>
<g transform="translate(1438.75 348.75) rotate(19)">
<path d="M198 196 L215 196 L215 250 L198 250 Z" fill="#fff"/>
<g clip-path="url(#c57)"><path class="t" d="M164.8 221.3L212 181.6M167 223.9L214.2 184.2M169.1 226.5L216.4 186.8M171.3 229.1L218.6 189.4M173.5 231.7L220.8 192M175.7 234.3L223 194.6M177.9 236.9L225.1 197.2M180.1 239.5L227.3 199.8M182.3 242.1L229.5 202.4M184.4 244.7L231.7 205M186.6 247.3L233.9 207.6M188.8 249.9L236.1 210.3M191 252.5L238.2 212.9M193.2 255.1L240.4 215.5M195.4 257.7L242.6 218.1M197.6 260.3L244.8 220.7M199.7 262.9L247 223.3"/></g>
<path class="k" d="M198 196 L215 196 L215 250 L198 250 Z"/>
</g>
<g transform="translate(1438.75 348.75) rotate(19)">
<path d="M127 213 L137 213 L137 308 L145 308 L145 524 L106 524 L106 512 L110 499 L122 499 L122 250 L127 250 Z" fill="#fff"/>
<g clip-path="url(#c58)"><path class="t" d="M98 168.7L324.3 395M91 175.8L317.2 402M83.9 182.9L310.1 409.1M76.8 190L303 416.2M69.7 197L296 423.3M62.7 204.1L288.9 430.3M55.6 211.2L281.8 437.4M48.5 218.2L274.8 444.5M41.5 225.3L267.7 451.5M34.4 232.4L260.6 458.6M27.3 239.5L253.5 465.7M20.3 246.5L246.5 472.7M13.2 253.6L239.4 479.8M6.1 260.7L232.3 486.9M-1 267.7L225.3 494M-8 274.8L218.2 501M-15.1 281.9L211.1 508.1M-22.2 289L204 515.2M-29.2 296L197 522.2M-36.3 303.1L189.9 529.3M-43.4 310.2L182.8 536.4M-50.5 317.2L175.8 543.5M-57.5 324.3L168.7 550.5M-64.6 331.4L161.6 557.6M-71.7 338.4L154.6 564.7M-78.7 345.5L147.5 571.7"/></g>
<path class="k" d="M127 213 L137 213 L137 308 L145 308 L145 524 L106 524 L106 512 L110 499 L122 499 L122 250 L127 250 Z"/>
</g>
<g transform="translate(1438.75 348.75) rotate(19)">
<path d="M186 213 L198 213 L198 250 L201 250 L201 498 L217.5 500 L217.5 523.5 L180 523.5 L180 308 L186 308 Z" fill="#fff"/>
<g clip-path="url(#c59)"><path class="t" d="M170.8 170.8L396.2 396.2M163.7 177.9L389.1 403.3M156.7 184.9L382.1 410.3M149.6 192L375 417.4M142.5 199.1L367.9 424.5M135.4 206.1L360.9 431.6M128.4 213.2L353.8 438.6M121.3 220.3L346.7 445.7M114.2 227.4L339.6 452.8M107.2 234.4L332.6 459.8M100.1 241.5L325.5 466.9M93 248.6L318.4 474M85.9 255.6L311.4 481.1M78.9 262.7L304.3 488.1M71.8 269.8L297.2 495.2M64.7 276.9L290.1 502.3M57.7 283.9L283.1 509.3M50.6 291L276 516.4M43.5 298.1L268.9 523.5M36.4 305.1L261.9 530.6M29.4 312.2L254.8 537.6M22.3 319.3L247.7 544.7M15.2 326.4L240.6 551.8M8.2 333.4L233.6 558.8M1.1 340.5L226.5 565.9"/></g>
<path class="k" d="M186 213 L198 213 L198 250 L201 250 L201 498 L217.5 500 L217.5 523.5 L180 523.5 L180 308 L186 308 Z"/>
</g>
<g transform="translate(1438.75 348.75) rotate(19)">
<path class="k" style="fill:#fff" d="M128 212.5 V188 Q128 184 132 184 H192 Q196 184 196 188 V212.5Z"/>
<path class="k" style="fill:#fff" d="M137 212.5 H186 V308 H137Z"/>
<path class="t" d="M141 217V305M182 217V305M137 304H186M137 217H186"/>
<path class="k3" style="stroke-width:3" d="M137 213V240M186 213V240"/>
<path class="k" d="M108 249 H100 Q96 256 101 262 H120 M214 249 H222 Q226 256 221 262 H203"/>
<path class="k3" style="stroke-width:5.5" d="M142.5 378H181"/>
<path class="k3" style="stroke-width:3.5" d="M180 378V426M145 426V524"/>
<path class="k" d="M145 424H180M145 427.5H180"/>
<path class="t" d="M145 462H180M145 465H180M147 384H178" style="stroke-dasharray:2 2"/>
<text x="0" y="6" transform="translate(162.5 402) rotate(180)" style="font-size:17px;font-weight:400;stroke:none;font-family:'Liberation Sans',sans-serif">LE</text>
<path class="t" d="M150 412H175M162 405V420"/>
<path class="c" d="M-30 554.5H235M162 -100V760"/>
</g>
<path d="M1333.4 740.9 L1347.7 732 L1362.5 736.5 L1384.8 751.6 A458.5 458.5 0 0 1 1187.4 1037.1 L1168.9 1027.1 L1165.5 1015.6 L1175.8 996.1 A1082 1082 0 0 1 1333.4 740.9 Z" fill="#fff"/>
<g clip-path="url(#c60)"><path class="t" d="M1382 613.5L1517.4 1042.7M1372.1 616.6L1507.4 1045.8M1362.2 619.7L1497.5 1048.9M1352.3 622.9L1487.6 1052M1342.4 626L1477.7 1055.2M1332.4 629.1L1467.8 1058.3M1322.5 632.2L1457.8 1061.4M1312.6 635.4L1447.9 1064.5M1302.7 638.5L1438 1067.7M1292.8 641.6L1428.1 1070.8M1282.9 644.8L1418.2 1073.9M1272.9 647.9L1408.3 1077.1M1263 651L1398.3 1080.2M1253.1 654.1L1388.4 1083.3M1243.2 657.3L1378.5 1086.4M1233.3 660.4L1368.6 1089.6M1223.3 663.5L1358.7 1092.7M1213.4 666.6L1348.7 1095.8M1203.5 669.8L1338.8 1098.9M1193.6 672.9L1328.9 1102.1M1183.7 676L1319 1105.2M1173.8 679.2L1309.1 1108.3M1163.8 682.3L1299.2 1111.5M1153.9 685.4L1289.2 1114.6M1144 688.5L1279.3 1117.7M1134.1 691.7L1269.4 1120.8M1124.2 694.8L1259.5 1124M1114.2 697.9L1249.6 1127.1M1104.3 701L1239.6 1130.2M1094.4 704.2L1229.7 1133.3M1084.5 707.3L1219.8 1136.5M1074.6 710.4L1209.9 1139.6M1064.6 713.6L1200 1142.7M1054.7 716.7L1190 1145.9M1044.8 719.8L1180.1 1149"/></g>
<path class="k" d="M1333.4 740.9 L1347.7 732 L1362.5 736.5 L1384.8 751.6 A458.5 458.5 0 0 1 1187.4 1037.1 L1168.9 1027.1 L1165.5 1015.6 L1175.8 996.1 A1082 1082 0 0 1 1333.4 740.9 Z"/>
<path class="k" d="M1377.3 525.1 A458.5 458.5 0 0 1 1180 1041.8"/>
<path class="k" d="M1382.1 523.7 A463.5 463.5 0 0 1 1192.8 1039.5"/>
<path class="k" d="M1377.3 526.1 L1325.8 677.9"/>
<g transform="translate(1438.75 348.75) rotate(19)">
<path class="k" style="fill:#fff" d="M18 529 H40 L44 533 H92 Q102 533 102 543 V570 Q102 580 92 580 H44 L40 585 H16 L10 578 V536Z"/>
<path class="k" style="fill:#fff" d="M42 524 H64 V533 H42Z M30 580 H44 V590 H30Z"/>
<path class="k" style="stroke-width:1.6" d="M58 545 V566 H92"/>
<path class="c" d="M-30 554.5H235"/>
</g>
<g transform="translate(980 1217.5) rotate(-43)">
<path class="t" d="M-33 -38 V40 M-33 -38 L112 -58 M-33 40 L126 56"/>
<path class="k" style="fill:#fff" d="M128 -25 H246 L250 -19 H281 V15 H250 L246 21 H128Z"/>
<path class="t" d="M128 -21H246M128 17H246M246 -25V21"/>
<path class="k" style="fill:#fff" d="M115.5 -64 H124.5 V42 H115.5Z"/>
<path class="k" style="fill:#fff" d="M89 -43 H115.5 V37 H89 L83 31 V-37Z"/>
<path class="t" d="M89 -43V37M83 -22H115.5M83 17H115.5"/>
<path class="k" style="fill:#fff" d="M83 -24 H3 Q0 -24 0 -21 V17 Q0 20 3 20 H83"/>
<path class="t" d="M3 -20.5H83M3 16.5H83"/>
<path class="c" d="M-36 -2H290"/>
</g>
<rect class="k" x="1163" y="1098" width="13" height="15" transform="rotate(19 1170 1105)" style="fill:#fff"/>
<circle class="t" cx="1169.5" cy="1105.5" r="5"/>
<g transform="translate(1438.75 348.75) rotate(19)">
<path class="k" style="fill:#fff" d="M74 673 H105 V648 H104 V595 H204 V594 H220 V675 H250 V886 H243 V843 H178 L172 832 V826 H150 V832 H129 L113 826 L105 815 H74Z"/>
<path class="k" style="fill:#fff" d="M129 876 H193 V1000 L187 1023 H150 L129 1001Z"/>
<path class="k" d="M250 886H297M-1 885H22M72 885H22"/>
<path class="k" d="M129 1001 H112 Q110 1001 110 1005 V1030 Q110 1035 115 1035 H185 Q190 1035 190 1030 V1001"/>
</g>
<g transform="translate(1438.75 348.75) rotate(19)">
<path d="M135 832 L150 832 L150 826 L172 826 L172 832 L178 843 L190 852 L192 876 L129 876 L129 850 Z" fill="#fff"/>
<g clip-path="url(#c61)"><path class="t" d="M103.7 855.1L164.6 794.2M108 859.3L168.8 798.5M112.2 863.6L173.1 802.7M116.5 867.8L177.3 807M120.7 872.1L181.6 811.2M125 876.3L185.8 815.5M129.2 880.5L190 819.7M133.4 884.8L194.3 823.9M137.7 889L198.5 828.2M141.9 893.3L202.8 832.4M146.2 897.5L207 836.7M150.4 901.8L211.3 840.9M154.7 906L215.5 845.2M158.9 910.2L219.7 849.4"/></g>
<path class="k" d="M135 832 L150 832 L150 826 L172 826 L172 832 L178 843 L190 852 L192 876 L129 876 L129 850 Z"/>
</g>
<g transform="translate(1438.75 348.75) rotate(19)">
<path d="M104 595 L204 595 L219 606 L219 645 L208 645 L200 640 L165 628 L125 640 L116 645 L104 648 Z" fill="#fff"/>
<g clip-path="url(#c62)"><path class="t" d="M155.8 529.1L251.9 625.2M147.3 537.6L243.4 633.7M138.8 546.1L234.9 642.2M130.3 554.6L226.4 650.7M121.8 563L218 659.2M113.3 571.5L209.5 667.7M104.8 580L201 676.2M96.4 588.5L192.5 684.6M87.9 597L184 693.1M79.4 605.5L175.5 701.6M70.9 614L167 710.1"/></g>
<path class="k" d="M104 595 L204 595 L219 606 L219 645 L208 645 L200 640 L165 628 L125 640 L116 645 L104 648 Z"/>
</g>
<g transform="translate(1438.75 348.75) rotate(19)">
<path d="M74 700 L81 700 L81 815 L74 815 Z" fill="#fff"/>
<g clip-path="url(#c63)"><path class="t" d="M67.7 682.8L152.2 767.3M64.1 686.4L148.6 770.9M60.6 689.9L145.1 774.4M57 693.4L141.6 778M53.5 697L138 781.5M50 700.5L134.5 785M46.4 704.1L130.9 788.6M42.9 707.6L127.4 792.1M39.4 711.1L123.9 795.6M35.8 714.7L120.3 799.2M32.3 718.2L116.8 802.7M28.8 721.7L113.3 806.2M25.2 725.3L109.7 809.8M21.7 728.8L106.2 813.3M18.2 732.3L102.7 816.8M14.6 735.9L99.1 820.4M11.1 739.4L95.6 823.9M7.6 742.9L92.1 827.4M4 746.5L88.5 831"/></g>
<path class="t" d="M74 700 L81 700 L81 815 L74 815 Z"/>
</g>
<g transform="translate(1438.75 348.75) rotate(19)">
<path d="M105 673 L115 673 L115 812 L105 812 Z" fill="#fff"/>
<g clip-path="url(#c64)"><path class="t" d="M95.4 655.5L197 757.1M89.1 661.8L190.7 763.4M82.7 668.2L184.3 769.8M76.3 674.6L177.9 776.2M70 680.9L171.6 782.5M63.6 687.3L165.2 788.9M57.3 693.6L158.9 795.2M50.9 700L152.5 801.6M44.5 706.4L146.1 808M38.2 712.7L139.8 814.3M31.8 719.1L133.4 820.7M25.4 725.5L127 827.1"/></g>
<path class="t" d="M105 673 L115 673 L115 812 L105 812 Z"/>
</g>
<g transform="translate(1438.75 348.75) rotate(19)">
<path d="M212 675 L221 675 L221 800 L212 800 Z" fill="#fff"/>
<g clip-path="url(#c65)"><path class="t" d="M202.1 660.3L293.7 751.9M195.7 666.6L287.4 758.3M189.3 673L281 764.7M183 679.4L274.6 771M176.6 685.7L268.3 777.4M170.2 692.1L261.9 783.8M163.9 698.4L255.6 790.1M157.5 704.8L249.2 796.5M151.1 711.2L242.8 802.9M144.8 717.5L236.5 809.2M138.4 723.9L230.1 815.6"/></g>
<path class="t" d="M212 675 L221 675 L221 800 L212 800 Z"/>
</g>
<g transform="translate(1438.75 348.75) rotate(19)">
<path d="M243 700 L250 700 L250 803 L243 803 Z" fill="#fff"/>
<g clip-path="url(#c66)"><path class="t" d="M234.7 687.2L310.8 763.3M231.2 690.8L307.2 766.8M227.6 694.3L303.7 770.4M224.1 697.9L300.1 773.9M220.6 701.4L296.6 777.4M217 704.9L293.1 781M213.5 708.5L289.5 784.5M209.9 712L286 788.1M206.4 715.5L282.5 791.6M202.9 719.1L278.9 795.1M199.3 722.6L275.4 798.7M195.8 726.1L271.9 802.2M192.3 729.7L268.3 805.7M188.7 733.2L264.8 809.3M185.2 736.7L261.3 812.8M181.7 740.3L257.7 816.3"/></g>
<path class="t" d="M243 700 L250 700 L250 803 L243 803 Z"/>
</g>
<g transform="translate(1438.75 348.75) rotate(19)">
<path d="M125 782 L137 767 L148.5 768 L148.5 823 L144 823 L138 806 L105 806 L106 795 L125 795 Z" fill="#fff"/>
<g clip-path="url(#c67)"><path class="t" d="M122.8 736.6L181.4 795.2M117.9 741.6L176.4 800.1M112.9 746.5L171.5 805.1M108 751.5L166.5 810M103 756.4L161.6 815M98.1 761.4L156.6 819.9M93.1 766.3L151.7 824.9M88.2 771.3L146.7 829.8M83.2 776.2L141.8 834.8M78.3 781.2L136.8 839.7M73.3 786.1L131.9 844.7M68.4 791.1L126.9 849.6"/></g>
<path class="k" d="M125 782 L137 767 L148.5 768 L148.5 823 L144 823 L138 806 L105 806 L106 795 L125 795 Z"/>
</g>
<g transform="translate(1438.75 348.75) rotate(19)">
<path d="M173 768 L187 766 L198 778 L200 786 L247 803 L247 812 L200 812 L187 824 L173 824 Z" fill="#fff"/>
<g clip-path="url(#c68)"><path class="t" d="M207.4 722.2L280.8 795.6M202.5 727.2L275.8 800.5M197.5 732.1L270.9 805.5M192.6 737.1L265.9 810.4M187.6 742L261 815.4M182.7 747L256 820.3M177.7 751.9L251.1 825.3M172.8 756.9L246.1 830.2M167.8 761.8L241.2 835.2M162.9 766.8L236.2 840.1M157.9 771.7L231.3 845.1M153 776.7L226.3 850M148 781.6L221.4 855M143.1 786.6L216.4 859.9M138.1 791.5L211.5 864.9"/></g>
<path class="k" d="M173 768 L187 766 L198 778 L200 786 L247 803 L247 812 L200 812 L187 824 L173 824 Z"/>
</g>
<g transform="translate(1438.75 348.75) rotate(19)">
<path d="M129 876 L150 876 L150 1001 L129 1001 Z" fill="#fff"/>
<g clip-path="url(#c69)"><path class="t" d="M131.2 853.9L224.1 946.8M126.3 858.8L219.2 951.7M121.3 863.8L214.2 956.7M116.4 868.7L209.3 961.6M111.4 873.7L204.3 966.6M106.5 878.6L199.4 971.5M101.5 883.6L194.4 976.5M96.6 888.5L189.5 981.4M91.6 893.5L184.5 986.4M86.7 898.4L179.6 991.3M81.7 903.4L174.6 996.3M76.8 908.3L169.7 1001.2M71.8 913.3L164.7 1006.2M66.9 918.2L159.8 1011.1M61.9 923.2L154.8 1016.1M57 928.1L149.9 1021"/></g>
<path class="k" d="M129 876 L150 876 L150 1001 L129 1001 Z"/>
</g>
<g transform="translate(1438.75 348.75) rotate(19)">
<path d="M172 876 L192 876 L192 1000 L172 1001 Z" fill="#fff"/>
<g clip-path="url(#c70)"><path class="t" d="M172.3 855.4L265.1 948.2M167.4 860.3L260.2 953.1M162.4 865.3L255.2 958.1M157.5 870.2L250.3 963M152.5 875.2L245.3 968M147.6 880.1L240.4 972.9M142.6 885.1L235.4 977.9M137.7 890L230.5 982.8M132.7 895L225.5 987.8M127.8 899.9L220.6 992.7M122.8 904.9L215.6 997.7M117.9 909.8L210.7 1002.6M112.9 914.8L205.7 1007.6M108 919.7L200.8 1012.5M103 924.7L195.8 1017.5M98.1 929.6L190.9 1022.4"/></g>
<path class="k" d="M172 876 L192 876 L192 1000 L172 1001 Z"/>
</g>
<g transform="translate(1438.75 348.75) rotate(19)">
<path class="k" d="M115 645 V812 M212 645 V800 M105 673 V795 M221 675 V790"/>
<path class="k3" style="stroke-width:4.5" d="M115 660H212"/>
<path class="k" d="M37 685 H74 M23 712 H74"/>
<circle class="k" style="fill:#fff;stroke-width:1.7" cx="89.5" cy="688" r="6.5"/>
<path class="t" d="M85.5 692L93.5 684M84.5 688L89.5 683M89.5 693L94.5 688"/>
<path class="k" d="M82 696.5H104M94 693.5H104"/>
<circle class="k" style="fill:#fff;stroke-width:1.7" cx="89.5" cy="705" r="6.5"/>
<path class="t" d="M85.5 709L93.5 701M84.5 705L89.5 700M89.5 710L94.5 705"/>
<path class="k" d="M82 713.5H104M94 710.5H104"/>
<circle class="k" style="fill:#fff;stroke-width:1.7" cx="89.5" cy="722" r="6.5"/>
<path class="t" d="M85.5 726L93.5 718M84.5 722L89.5 717M89.5 727L94.5 722"/>
<path class="k" d="M82 730.5H104M94 727.5H104"/>
<circle class="k" style="fill:#fff;stroke-width:1.7" cx="89.5" cy="739" r="6.5"/>
<path class="t" d="M85.5 743L93.5 735M84.5 739L89.5 734M89.5 744L94.5 739"/>
<path class="k" d="M82 747.5H104M94 744.5H104"/>
<circle class="k" style="fill:#fff;stroke-width:1.7" cx="89.5" cy="756" r="6.5"/>
<path class="t" d="M85.5 760L93.5 752M84.5 756L89.5 751M89.5 761L94.5 756"/>
<path class="k" d="M82 764.5H104M94 761.5H104"/>
<circle class="k" style="fill:#fff;stroke-width:1.7" cx="89.5" cy="773" r="6.5"/>
<path class="t" d="M85.5 777L93.5 769M84.5 773L89.5 768M89.5 778L94.5 773"/>
<path class="k" d="M82 781.5H104M94 778.5H104"/>
<circle class="k" style="fill:#fff;stroke-width:1.7" cx="89.5" cy="790" r="6.5"/>
<path class="t" d="M85.5 794L93.5 786M84.5 790L89.5 785M89.5 795L94.5 790"/>
<path class="k" d="M82 798.5H104M94 795.5H104"/>
<circle class="k" style="fill:#fff;stroke-width:1.7" cx="89.5" cy="807" r="6.5"/>
<path class="t" d="M85.5 811L93.5 803M84.5 807L89.5 802M89.5 812L94.5 807"/>
<path class="k" d="M82 815.5H104M94 812.5H104"/>
<circle class="k" style="fill:#fff;stroke-width:1.7" cx="235.5" cy="684.0" r="6.5"/>
<path class="t" d="M231.5 688.0L239.5 680.0M230.5 684.0L235.5 679.0M235.5 689.0L240.5 684.0"/>
<path class="k" d="M222 692.2H243M222 689.2H231"/>
<circle class="k" style="fill:#fff;stroke-width:1.7" cx="235.5" cy="700.5" r="6.5"/>
<path class="t" d="M231.5 704.5L239.5 696.5M230.5 700.5L235.5 695.5M235.5 705.5L240.5 700.5"/>
<path class="k" d="M222 708.7H243M222 705.7H231"/>
<circle class="k" style="fill:#fff;stroke-width:1.7" cx="235.5" cy="717.0" r="6.5"/>
<path class="t" d="M231.5 721.0L239.5 713.0M230.5 717.0L235.5 712.0M235.5 722.0L240.5 717.0"/>
<path class="k" d="M222 725.2H243M222 722.2H231"/>
<circle class="k" style="fill:#fff;stroke-width:1.7" cx="235.5" cy="733.5" r="6.5"/>
<path class="t" d="M231.5 737.5L239.5 729.5M230.5 733.5L235.5 728.5M235.5 738.5L240.5 733.5"/>
<path class="k" d="M222 741.7H243M222 738.7H231"/>
<circle class="k" style="fill:#fff;stroke-width:1.7" cx="235.5" cy="750.0" r="6.5"/>
<path class="t" d="M231.5 754.0L239.5 746.0M230.5 750.0L235.5 745.0M235.5 755.0L240.5 750.0"/>
<path class="k" d="M222 758.2H243M222 755.2H231"/>
<circle class="k" style="fill:#fff;stroke-width:1.7" cx="235.5" cy="766.5" r="6.5"/>
<path class="t" d="M231.5 770.5L239.5 762.5M230.5 766.5L235.5 761.5M235.5 771.5L240.5 766.5"/>
<path class="k" d="M222 774.7H243M222 771.7H231"/>
<circle class="k" style="fill:#fff;stroke-width:1.7" cx="235.5" cy="783.0" r="6.5"/>
<path class="t" d="M231.5 787.0L239.5 779.0M230.5 783.0L235.5 778.0M235.5 788.0L240.5 783.0"/>
<path class="k" d="M222 791.2H243M222 788.2H231"/>
<circle class="k" style="fill:#fff;stroke-width:1.7" cx="235.5" cy="799.5" r="6.5"/>
<path class="t" d="M231.5 803.5L239.5 795.5M230.5 799.5L235.5 794.5M235.5 804.5L240.5 799.5"/>
<path class="k" d="M222 807.7H243M222 804.7H231"/>
<path class="k" style="fill:#fff" d="M150 826 V754 A10.5 10.5 0 0 1 171 754 V826Z"/>
<path class="t" d="M157 760V820"/>
<circle class="b" cx="145.0" cy="772.0" r="3.2"/><circle class="b" cx="176.0" cy="775.0" r="3.2"/>
<circle class="b" cx="144.8" cy="780.5" r="3.2"/><circle class="b" cx="176.2" cy="783.5" r="3.2"/>
<circle class="b" cx="144.6" cy="789.0" r="3.2"/><circle class="b" cx="176.4" cy="792.0" r="3.2"/>
<circle class="b" cx="144.4" cy="797.5" r="3.2"/><circle class="b" cx="176.6" cy="800.5" r="3.2"/>
<circle class="b" cx="144.2" cy="806.0" r="3.2"/><circle class="b" cx="176.8" cy="809.0" r="3.2"/>
<circle class="b" cx="144.0" cy="814.5" r="3.2"/><circle class="b" cx="177.0" cy="817.5" r="3.2"/>
<circle class="b" cx="143.8" cy="823.0" r="3.2"/><circle class="b" cx="177.2" cy="826.0" r="3.2"/>
<circle class="b" cx="143.6" cy="831.5" r="3.2"/><circle class="b" cx="177.4" cy="834.5" r="3.2"/>
<path class="k" d="M149 768V832M172 768V832"/>
<path class="k" d="M178 843 H247 M150 832 L178 843 M113 826 L129 832 H150"/>
<circle class="k" style="fill:#fff" cx="245.5" cy="858" r="5.5"/>
<path class="w" d="M150 876H172V1023H150Z"/>
<path class="k" d="M150 876V1023M172 876V1023M129 876H192M150 886H172M150 910H172M150 886L172 910M172 886L150 910"/>
<path class="k3" style="stroke-width:4" d="M150 917H183"/>
<path class="k" d="M154 925V985M168 925V985M150 985H172M150 1008H187"/>
<path class="c" d="M161 930V1030"/>
</g>
<g transform="translate(1438.75 348.75) rotate(19)">
<path class="k" style="fill:#fff" d="M22.5 948 L53 951.5 L108 964.5 L112 1038 L117.6 1046.5 H31 Q23 1046 23 1038Z"/>
<path class="k" d="M74 815 L73 885"/>
</g>
<g transform="translate(1438.75 348.75) rotate(19) translate(113.6 826) rotate(14.5)">
<path class="k" style="fill:#fff" d="M-9 0 H9 V134 H-9Z"/>
<path class="t" d="M-5 0V128M5 0V128"/>
<path class="k" style="fill:#fff" d="M-11 60 H11 V68 H-11Z"/>
<path class="k" style="fill:#fff" d="M-30 134 H30 V140 H-30Z"/>
<path class="k" style="fill:#fff" d="M-24 140 H24 V163 Q24 167 20 167 H-20 Q-24 167 -24 163Z"/>
<path class="k" style="fill:#fff" d="M-11 167 H11 V194 Q11 197 8 197 H-8 Q-11 197 -11 194Z"/>
<path class="t" d="M-12 140V167M12 140V167"/>
<path class="c" d="M0 -10V215"/>
<path class="t" d="M-40 120 L-40 222 M40 120 V222 M-40 222 H40"/>
</g>
<rect class="k" x="302.5" y="103.5" width="44" height="34" rx="17" ry="17" style="stroke-width:1.8"/>
<text x="324.5" y="130.7">1</text>
<rect class="k" x="626" y="103.5" width="44" height="34" rx="17" ry="17" style="stroke-width:1.8"/>
<text x="648" y="130.7">8</text>
<rect class="k" x="821" y="103.5" width="56" height="34" rx="17" ry="17" style="stroke-width:1.8"/>
<text x="849" y="130.7">13</text>
<rect class="k" x="1010" y="103.5" width="44" height="34" rx="17" ry="17" style="stroke-width:1.8"/>
<text x="1032" y="130.7">5</text>
<rect class="k" x="1162" y="103.5" width="56" height="34" rx="17" ry="17" style="stroke-width:1.8"/>
<text x="1190" y="130.7">18</text>
<rect class="k" x="1384" y="103.5" width="56" height="34" rx="17" ry="17" style="stroke-width:1.8"/>
<text x="1412" y="130.7">17</text>
<rect class="k" x="1513" y="103.5" width="56" height="34" rx="17" ry="17" style="stroke-width:1.8"/>
<text x="1541" y="130.7">12</text>
<rect class="k" x="1660" y="103.5" width="44" height="34" rx="17" ry="17" style="stroke-width:1.8"/>
<text x="1682" y="130.7">2</text>
<rect class="k" x="304" y="1418" width="44" height="34" rx="17" ry="17" style="stroke-width:1.8"/>
<text x="326" y="1445.2">9</text>
<rect class="k" x="438" y="1418" width="56" height="34" rx="17" ry="17" style="stroke-width:1.8"/>
<text x="466" y="1445.2">11</text>
<rect class="k" x="568" y="1418" width="56" height="34" rx="17" ry="17" style="stroke-width:1.8"/>
<text x="596" y="1445.2">10</text>
<path class="t" d="M324.5 137.5 L377 600"/>
<circle class="b" cx="377" cy="600" r="2.6"/>
<path class="t" d="M648.5 137.5 L668 273.5"/>
<circle class="b" cx="668" cy="273.5" r="2.6"/>
<path class="t" d="M850 137.5 L882.5 340"/>
<circle class="b" cx="882.5" cy="340" r="2.6"/>
<path class="t" d="M1032.5 137.5 L1047 374"/>
<circle class="b" cx="1047" cy="374" r="2.6"/>
<path class="t" d="M1190 137.5 L1321 361"/>
<circle class="b" cx="1321" cy="361" r="2.6"/>
<path class="t" d="M1412 137.5 L1327 312"/>
<circle class="b" cx="1327" cy="312" r="2.6"/>
<path class="t" d="M1541 137.5 L1392.5 462.5"/>
<path class="t" d="M1682 137.5 L1539.5 467"/>
<circle class="b" cx="1539.5" cy="467" r="2.6"/>
<path class="t" d="M331 1418 L480.5 801"/>
<path class="t" d="M466 1418 L491.5 796"/>
<path class="t" d="M595.5 1418 L507 797"/>
<g style="mix-blend-mode:multiply">
<rect x="112" y="621" width="1705" height="5" fill="#fffaf0"/>
<rect x="112" y="942" width="1262" height="6" fill="#fffaf0"/>
<text x="0" y="0" transform="translate(109 921) scale(0.78 1)" style="stroke:none;font-family:'Liberation Sans',sans-serif;font-weight:700;font-style:italic;font-size:416px;text-anchor:start;letter-spacing:-6px;fill:#fffaee">Whalco</text>
<text x="0" y="0" transform="translate(95 913) scale(0.78 1)" style="stroke:none;font-family:'Liberation Sans',sans-serif;font-weight:700;font-style:italic;font-size:416px;text-anchor:start;letter-spacing:-6px;fill:#f6f6f4">Whalco</text>
<path d="M1452 665 H1770 Q1802 665 1797 697 L1762 915 Q1756 945 1726 945 H1410 Z" fill="#f6f6f6"/>
<path d="M1444 657 H1762 Q1794 657 1789 689 L1754 907 Q1748 937 1718 937 H1400 Z" fill="#fffaf0"/>
</g>
<circle cx="1668" cy="862" r="42" fill="#fff" style="mix-blend-mode:screen"/>
<path class="t" d="M1338.3 530.6 L1331.2 538.6 L1328.5 554.5 L1325.8 558.1 L1319.6 561.6" />
<path class="c" d="M1318.7 565.2 L1306.3 627.3 L1301.9 664.6 L1297.4 700 L1293 760 L1291 800 L1294 850" />
<path class="c" d="M1340 702.7 L1395 708"/>
<path d="M1659 756 L1715 733 L1762 700 L1765 752 L1709 761 L1659 772 Z M1655 775 L1668 778 L1630 822 L1622 815 Z M1690 770 L1740 762 L1752 800 L1712 815 Z" fill="#fff"/>
</svg>
</body></html>
